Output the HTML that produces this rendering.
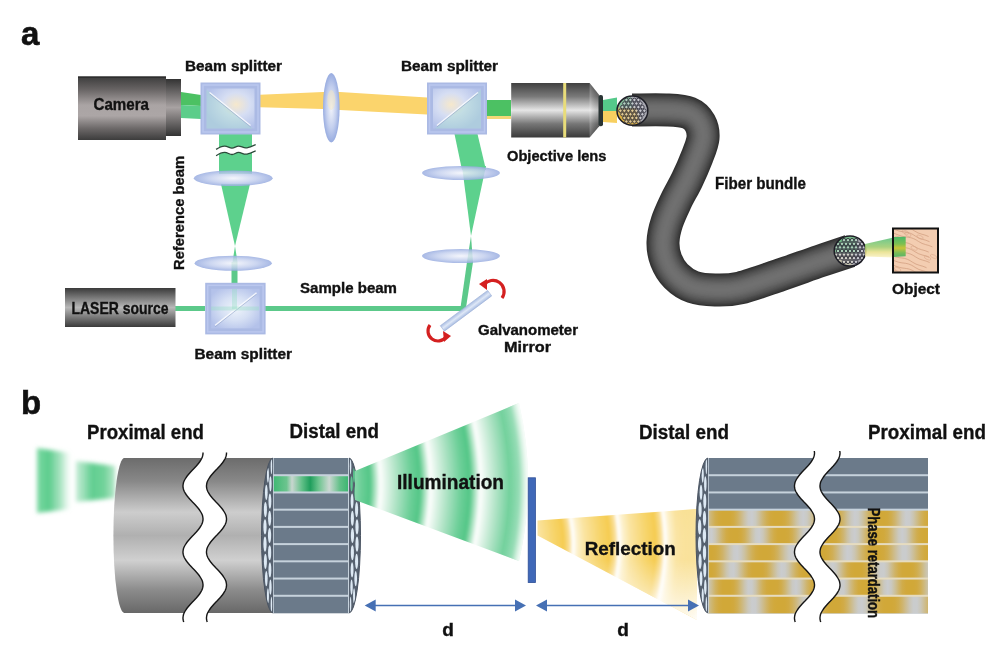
<!DOCTYPE html><html><head><meta charset="utf-8"><style>html,body{margin:0;padding:0;background:#fff;width:1000px;height:663px;overflow:hidden}svg{display:block;will-change:transform}</style></head><body><svg width="1000" height="663" viewBox="0 0 1000 663"><defs><linearGradient id="camg" x1="0" y1="0" x2="0" y2="1">
<stop offset="0" stop-color="#3c3c3c"/><stop offset="0.2" stop-color="#676363"/><stop offset="0.45" stop-color="#aaa4a4"/><stop offset="0.62" stop-color="#aca6a6"/><stop offset="0.82" stop-color="#6c6868"/><stop offset="1" stop-color="#3c3c3c"/></linearGradient><linearGradient id="camn" x1="0" y1="0" x2="0" y2="1">
<stop offset="0" stop-color="#333"/><stop offset="0.5" stop-color="#a8a2a2"/><stop offset="1" stop-color="#333"/></linearGradient><linearGradient id="objg" x1="0" y1="0" x2="0" y2="1">
<stop offset="0" stop-color="#404040"/><stop offset="0.25" stop-color="#7a7a7a"/><stop offset="0.5" stop-color="#e6e6e6"/><stop offset="0.75" stop-color="#777"/><stop offset="1" stop-color="#3a3a3a"/></linearGradient><linearGradient id="lasg" x1="0" y1="0" x2="0" y2="1">
<stop offset="0" stop-color="#3a3a3a"/><stop offset="0.5" stop-color="#b8b8b8"/><stop offset="1" stop-color="#3a3a3a"/></linearGradient><radialGradient id="lensv" cx="0.5" cy="0.5" r="0.5">
<stop offset="0" stop-color="#f2f4fb"/><stop offset="0.6" stop-color="#c3cfee"/><stop offset="1" stop-color="#98ace0"/></radialGradient><radialGradient id="bsin" cx="0.6" cy="0.35" r="0.6">
<stop offset="0" stop-color="#f4eedf"/><stop offset="0.5" stop-color="#d3dcf2"/><stop offset="1" stop-color="#b3c2ea"/></radialGradient><linearGradient id="bscyl" x1="0" y1="0" x2="0" y2="1">
<stop offset="0" stop-color="#6c6c6c"/><stop offset="0.15" stop-color="#888"/><stop offset="0.35" stop-color="#cdcdcd"/><stop offset="0.5" stop-color="#b0b0b0"/><stop offset="0.66" stop-color="#d0d0d0"/><stop offset="0.85" stop-color="#8c8c8c"/><stop offset="1" stop-color="#686868"/></linearGradient><filter id="blur05" x="-10%" y="-10%" width="120%" height="120%"><feGaussianBlur stdDeviation="0.5"/></filter><radialGradient id="bsinR" cx="0.62" cy="0.4" r="0.65">
<stop offset="0" stop-color="#f6e8cc"/><stop offset="0.45" stop-color="#d6def3"/><stop offset="1" stop-color="#b4c2ea"/></radialGradient><radialGradient id="bsinL" cx="0.38" cy="0.4" r="0.65">
<stop offset="0" stop-color="#f6e8cc"/><stop offset="0.45" stop-color="#d6def3"/><stop offset="1" stop-color="#b4c2ea"/></radialGradient><radialGradient id="bsin3" cx="0.5" cy="0.5" r="0.6">
<stop offset="0" stop-color="#eef4fb"/><stop offset="0.5" stop-color="#d6e0f4"/><stop offset="1" stop-color="#b4c2ea"/></radialGradient><linearGradient id="objg2" x1="0" y1="0" x2="1" y2="0"><stop offset="0" stop-color="#fff" stop-opacity="0.25"/><stop offset="1" stop-color="#000" stop-opacity="0.15"/></linearGradient><clipPath id="fe1"><ellipse cx="632.4" cy="110.7" rx="15.4" ry="14.6"/></clipPath><clipPath id="fe2"><ellipse cx="850" cy="251" rx="15.8" ry="15"/></clipPath><linearGradient id="objbeam" x1="0" y1="237" x2="0" y2="257" gradientUnits="userSpaceOnUse">
<stop offset="0" stop-color="#4cb868"/><stop offset="0.35" stop-color="#7cc050"/><stop offset="0.55" stop-color="#c8c438"/><stop offset="0.8" stop-color="#78bc58"/><stop offset="1" stop-color="#58b468"/></linearGradient><linearGradient id="objbeamout" x1="0" y1="238" x2="0" y2="258" gradientUnits="userSpaceOnUse">
<stop offset="0" stop-color="#58c07a"/><stop offset="0.45" stop-color="#9ccb6a"/><stop offset="0.7" stop-color="#e8e088"/><stop offset="1" stop-color="#fbf3c8"/></linearGradient><clipPath id="objclip"><rect x="894" y="229.5" width="43" height="42"/></clipPath><linearGradient id="mirg" x1="0" y1="0" x2="0" y2="1"><stop offset="0" stop-color="#a9bde2"/><stop offset="0.5" stop-color="#dfe8f7"/><stop offset="1" stop-color="#a9bde2"/></linearGradient><filter id="blur2" x="-20%" y="-20%" width="140%" height="140%"><feGaussianBlur stdDeviation="2.2"/></filter><filter id="blur1" x="-20%" y="-20%" width="140%" height="140%"><feGaussianBlur stdDeviation="1.2"/></filter><filter id="blur15" x="-20%" y="-20%" width="140%" height="140%"><feGaussianBlur stdDeviation="1.6"/></filter><filter id="blur07" x="-20%" y="-20%" width="140%" height="140%"><feGaussianBlur stdDeviation="0.7"/></filter><linearGradient id="gw1" x1="37" y1="0" x2="71" y2="0" gradientUnits="userSpaceOnUse">
<stop offset="0" stop-color="#5ccf8c" stop-opacity="0.8"/><stop offset="0.35" stop-color="#52c986" stop-opacity="0.95"/><stop offset="0.7" stop-color="#86d8a8" stop-opacity="0.7"/><stop offset="1" stop-color="#b8e8cc" stop-opacity="0.0"/></linearGradient><linearGradient id="gw2" x1="76" y1="0" x2="116" y2="0" gradientUnits="userSpaceOnUse">
<stop offset="0" stop-color="#8ad9ab" stop-opacity="0.5"/><stop offset="0.4" stop-color="#58cb8a" stop-opacity="0.95"/><stop offset="0.7" stop-color="#60cd8e" stop-opacity="0.9"/><stop offset="1" stop-color="#88d8a8" stop-opacity="0.6"/></linearGradient><linearGradient id="gstripe" x1="273" y1="0" x2="349" y2="0" gradientUnits="userSpaceOnUse">
<stop offset="0" stop-color="#3db873"/><stop offset="0.18" stop-color="#6cc48e"/><stop offset="0.25" stop-color="#c9d6d0"/><stop offset="0.38" stop-color="#62c088"/>
<stop offset="0.49" stop-color="#1f9e5c"/><stop offset="0.6" stop-color="#6cc48e"/><stop offset="0.74" stop-color="#ccd8d2"/><stop offset="0.88" stop-color="#62c088"/><stop offset="1" stop-color="#3ab56f"/></linearGradient><radialGradient id="gillum" cx="180" cy="485" r="50" fx="180" fy="485" gradientUnits="userSpaceOnUse" spreadMethod="repeat">
<stop offset="0" stop-color="#ffffff"/><stop offset="0.1" stop-color="#e6f6ec"/><stop offset="0.3" stop-color="#b6e5ca"/><stop offset="0.62" stop-color="#6ccf98"/><stop offset="0.8" stop-color="#52c686"/><stop offset="0.9" stop-color="#a8e2c0"/><stop offset="1" stop-color="#ffffff"/></radialGradient><radialGradient id="gillumfade" cx="180" cy="485" r="352" gradientUnits="userSpaceOnUse">
<stop offset="0.5" stop-color="#fff" stop-opacity="0"/><stop offset="0.935" stop-color="#fff" stop-opacity="0"/><stop offset="1" stop-color="#fff" stop-opacity="0.9"/></radialGradient><clipPath id="illclip"><path d="M355 471 L519 403 A 350 350 0 0 1 519 561 L355 500 Z"/></clipPath><radialGradient id="gref" cx="435" cy="545" r="46" gradientUnits="userSpaceOnUse" spreadMethod="repeat">
<stop offset="0" stop-color="#ffffff"/><stop offset="0.1" stop-color="#fdf1cc"/><stop offset="0.25" stop-color="#fae4a2"/><stop offset="0.6" stop-color="#f7d46a"/><stop offset="0.8" stop-color="#f5cc52"/><stop offset="0.92" stop-color="#f9df98"/><stop offset="1" stop-color="#ffffff"/></radialGradient><linearGradient id="greffade" x1="0" y1="560" x2="0" y2="620" gradientUnits="userSpaceOnUse">
<stop offset="0" stop-color="#fff" stop-opacity="0"/><stop offset="1" stop-color="#fff" stop-opacity="0.9"/></linearGradient><linearGradient id="greffade2" x1="675" y1="0" x2="698" y2="0" gradientUnits="userSpaceOnUse">
<stop offset="0" stop-color="#fff" stop-opacity="0"/><stop offset="1" stop-color="#fff" stop-opacity="0.45"/></linearGradient><clipPath id="refclip"><path d="M537.5 520.5 L697 509 L697 620 L537.5 535.5 Z"/></clipPath><linearGradient id="ystr0" x1="708" y1="0" x2="928" y2="0" gradientUnits="userSpaceOnUse"><stop offset="0.000" stop-color="rgb(205, 190, 149)"/><stop offset="0.017" stop-color="rgb(207, 181, 110)"/><stop offset="0.033" stop-color="rgb(208, 173, 78)"/><stop offset="0.050" stop-color="rgb(209, 169, 61)"/><stop offset="0.067" stop-color="rgb(209, 168, 56)"/><stop offset="0.083" stop-color="rgb(209, 168, 56)"/><stop offset="0.100" stop-color="rgb(209, 168, 57)"/><stop offset="0.117" stop-color="rgb(209, 171, 68)"/><stop offset="0.133" stop-color="rgb(208, 177, 93)"/><stop offset="0.150" stop-color="rgb(206, 185, 129)"/><stop offset="0.167" stop-color="rgb(204, 195, 169)"/><stop offset="0.183" stop-color="rgb(202, 202, 199)"/><stop offset="0.200" stop-color="rgb(202, 204, 207)"/><stop offset="0.217" stop-color="rgb(202, 201, 191)"/><stop offset="0.233" stop-color="rgb(204, 192, 157)"/><stop offset="0.250" stop-color="rgb(206, 182, 116)"/><stop offset="0.267" stop-color="rgb(208, 174, 83)"/><stop offset="0.283" stop-color="rgb(209, 169, 63)"/><stop offset="0.300" stop-color="rgb(209, 168, 56)"/><stop offset="0.317" stop-color="rgb(209, 168, 56)"/><stop offset="0.333" stop-color="rgb(209, 168, 57)"/><stop offset="0.350" stop-color="rgb(209, 170, 65)"/><stop offset="0.367" stop-color="rgb(208, 175, 87)"/><stop offset="0.383" stop-color="rgb(206, 184, 122)"/><stop offset="0.400" stop-color="rgb(204, 194, 162)"/><stop offset="0.417" stop-color="rgb(202, 201, 195)"/><stop offset="0.433" stop-color="rgb(202, 204, 207)"/><stop offset="0.450" stop-color="rgb(202, 202, 196)"/><stop offset="0.467" stop-color="rgb(204, 194, 164)"/><stop offset="0.483" stop-color="rgb(206, 184, 124)"/><stop offset="0.500" stop-color="rgb(208, 175, 88)"/><stop offset="0.517" stop-color="rgb(209, 170, 66)"/><stop offset="0.533" stop-color="rgb(209, 168, 57)"/><stop offset="0.550" stop-color="rgb(209, 168, 56)"/><stop offset="0.567" stop-color="rgb(209, 168, 56)"/><stop offset="0.583" stop-color="rgb(209, 169, 63)"/><stop offset="0.600" stop-color="rgb(208, 174, 82)"/><stop offset="0.617" stop-color="rgb(206, 182, 115)"/><stop offset="0.633" stop-color="rgb(204, 192, 155)"/><stop offset="0.650" stop-color="rgb(202, 200, 190)"/><stop offset="0.667" stop-color="rgb(202, 204, 207)"/><stop offset="0.683" stop-color="rgb(202, 203, 200)"/><stop offset="0.700" stop-color="rgb(203, 196, 171)"/><stop offset="0.717" stop-color="rgb(206, 186, 131)"/><stop offset="0.733" stop-color="rgb(207, 177, 94)"/><stop offset="0.750" stop-color="rgb(209, 171, 69)"/><stop offset="0.767" stop-color="rgb(209, 168, 58)"/><stop offset="0.783" stop-color="rgb(209, 168, 56)"/><stop offset="0.800" stop-color="rgb(209, 168, 56)"/><stop offset="0.817" stop-color="rgb(209, 169, 61)"/><stop offset="0.833" stop-color="rgb(208, 173, 77)"/><stop offset="0.850" stop-color="rgb(207, 180, 108)"/><stop offset="0.867" stop-color="rgb(205, 190, 148)"/><stop offset="0.883" stop-color="rgb(203, 199, 185)"/><stop offset="0.900" stop-color="rgb(202, 204, 206)"/><stop offset="0.917" stop-color="rgb(202, 203, 203)"/><stop offset="0.933" stop-color="rgb(203, 197, 177)"/><stop offset="0.950" stop-color="rgb(205, 188, 138)"/><stop offset="0.967" stop-color="rgb(207, 178, 100)"/><stop offset="0.983" stop-color="rgb(209, 172, 72)"/><stop offset="1.000" stop-color="rgb(209, 168, 59)"/></linearGradient><linearGradient id="ystr1" x1="708" y1="0" x2="928" y2="0" gradientUnits="userSpaceOnUse"><stop offset="0.000" stop-color="rgb(202, 203, 201)"/><stop offset="0.017" stop-color="rgb(202, 204, 206)"/><stop offset="0.033" stop-color="rgb(203, 198, 182)"/><stop offset="0.050" stop-color="rgb(205, 188, 141)"/><stop offset="0.067" stop-color="rgb(207, 178, 100)"/><stop offset="0.083" stop-color="rgb(209, 171, 70)"/><stop offset="0.100" stop-color="rgb(209, 168, 58)"/><stop offset="0.117" stop-color="rgb(209, 168, 56)"/><stop offset="0.133" stop-color="rgb(209, 168, 56)"/><stop offset="0.150" stop-color="rgb(209, 169, 63)"/><stop offset="0.167" stop-color="rgb(208, 175, 86)"/><stop offset="0.183" stop-color="rgb(206, 184, 124)"/><stop offset="0.200" stop-color="rgb(204, 195, 167)"/><stop offset="0.217" stop-color="rgb(202, 203, 199)"/><stop offset="0.233" stop-color="rgb(202, 204, 207)"/><stop offset="0.250" stop-color="rgb(203, 199, 185)"/><stop offset="0.267" stop-color="rgb(205, 189, 146)"/><stop offset="0.283" stop-color="rgb(207, 179, 103)"/><stop offset="0.300" stop-color="rgb(209, 172, 72)"/><stop offset="0.317" stop-color="rgb(209, 168, 58)"/><stop offset="0.333" stop-color="rgb(209, 168, 56)"/><stop offset="0.350" stop-color="rgb(209, 168, 56)"/><stop offset="0.367" stop-color="rgb(209, 169, 62)"/><stop offset="0.383" stop-color="rgb(208, 174, 83)"/><stop offset="0.400" stop-color="rgb(206, 183, 120)"/><stop offset="0.417" stop-color="rgb(204, 194, 164)"/><stop offset="0.433" stop-color="rgb(202, 202, 197)"/><stop offset="0.450" stop-color="rgb(202, 204, 207)"/><stop offset="0.467" stop-color="rgb(203, 200, 188)"/><stop offset="0.483" stop-color="rgb(205, 190, 150)"/><stop offset="0.500" stop-color="rgb(207, 180, 107)"/><stop offset="0.517" stop-color="rgb(209, 172, 74)"/><stop offset="0.533" stop-color="rgb(209, 168, 59)"/><stop offset="0.550" stop-color="rgb(209, 168, 56)"/><stop offset="0.567" stop-color="rgb(209, 168, 56)"/><stop offset="0.583" stop-color="rgb(209, 169, 61)"/><stop offset="0.600" stop-color="rgb(208, 174, 80)"/><stop offset="0.617" stop-color="rgb(206, 182, 116)"/><stop offset="0.633" stop-color="rgb(204, 193, 160)"/><stop offset="0.650" stop-color="rgb(202, 201, 195)"/><stop offset="0.667" stop-color="rgb(202, 204, 207)"/><stop offset="0.683" stop-color="rgb(202, 201, 191)"/><stop offset="0.700" stop-color="rgb(204, 191, 153)"/><stop offset="0.717" stop-color="rgb(207, 181, 110)"/><stop offset="0.733" stop-color="rgb(208, 173, 77)"/><stop offset="0.750" stop-color="rgb(209, 169, 60)"/><stop offset="0.767" stop-color="rgb(209, 168, 56)"/><stop offset="0.783" stop-color="rgb(209, 168, 56)"/><stop offset="0.800" stop-color="rgb(209, 169, 60)"/><stop offset="0.817" stop-color="rgb(208, 173, 78)"/><stop offset="0.833" stop-color="rgb(207, 181, 112)"/><stop offset="0.850" stop-color="rgb(204, 192, 156)"/><stop offset="0.867" stop-color="rgb(202, 201, 193)"/><stop offset="0.883" stop-color="rgb(202, 204, 207)"/><stop offset="0.900" stop-color="rgb(202, 201, 194)"/><stop offset="0.917" stop-color="rgb(204, 192, 157)"/><stop offset="0.933" stop-color="rgb(206, 182, 114)"/><stop offset="0.950" stop-color="rgb(208, 173, 79)"/><stop offset="0.967" stop-color="rgb(209, 169, 61)"/><stop offset="0.983" stop-color="rgb(209, 168, 56)"/><stop offset="1.000" stop-color="rgb(209, 168, 56)"/></linearGradient><linearGradient id="ystr2" x1="708" y1="0" x2="928" y2="0" gradientUnits="userSpaceOnUse"><stop offset="0.000" stop-color="rgb(209, 168, 56)"/><stop offset="0.017" stop-color="rgb(209, 168, 56)"/><stop offset="0.033" stop-color="rgb(209, 169, 61)"/><stop offset="0.050" stop-color="rgb(208, 173, 77)"/><stop offset="0.067" stop-color="rgb(207, 179, 105)"/><stop offset="0.083" stop-color="rgb(205, 188, 141)"/><stop offset="0.100" stop-color="rgb(203, 197, 177)"/><stop offset="0.117" stop-color="rgb(202, 203, 202)"/><stop offset="0.133" stop-color="rgb(202, 204, 207)"/><stop offset="0.150" stop-color="rgb(202, 200, 191)"/><stop offset="0.167" stop-color="rgb(204, 193, 159)"/><stop offset="0.183" stop-color="rgb(206, 184, 122)"/><stop offset="0.200" stop-color="rgb(208, 176, 89)"/><stop offset="0.217" stop-color="rgb(209, 170, 67)"/><stop offset="0.233" stop-color="rgb(209, 168, 58)"/><stop offset="0.250" stop-color="rgb(209, 168, 56)"/><stop offset="0.267" stop-color="rgb(209, 168, 56)"/><stop offset="0.283" stop-color="rgb(209, 168, 59)"/><stop offset="0.300" stop-color="rgb(209, 171, 71)"/><stop offset="0.317" stop-color="rgb(207, 177, 96)"/><stop offset="0.333" stop-color="rgb(206, 186, 131)"/><stop offset="0.350" stop-color="rgb(204, 195, 168)"/><stop offset="0.367" stop-color="rgb(202, 202, 196)"/><stop offset="0.383" stop-color="rgb(202, 204, 207)"/><stop offset="0.400" stop-color="rgb(202, 202, 197)"/><stop offset="0.417" stop-color="rgb(204, 195, 169)"/><stop offset="0.433" stop-color="rgb(205, 186, 132)"/><stop offset="0.450" stop-color="rgb(207, 178, 97)"/><stop offset="0.467" stop-color="rgb(209, 171, 72)"/><stop offset="0.483" stop-color="rgb(209, 168, 59)"/><stop offset="0.500" stop-color="rgb(209, 168, 56)"/><stop offset="0.517" stop-color="rgb(209, 168, 56)"/><stop offset="0.533" stop-color="rgb(209, 168, 57)"/><stop offset="0.550" stop-color="rgb(209, 170, 67)"/><stop offset="0.567" stop-color="rgb(208, 175, 88)"/><stop offset="0.583" stop-color="rgb(206, 183, 121)"/><stop offset="0.600" stop-color="rgb(204, 192, 158)"/><stop offset="0.617" stop-color="rgb(202, 200, 190)"/><stop offset="0.633" stop-color="rgb(202, 204, 207)"/><stop offset="0.650" stop-color="rgb(202, 203, 202)"/><stop offset="0.667" stop-color="rgb(203, 197, 178)"/><stop offset="0.683" stop-color="rgb(205, 189, 143)"/><stop offset="0.700" stop-color="rgb(207, 180, 106)"/><stop offset="0.717" stop-color="rgb(208, 173, 78)"/><stop offset="0.733" stop-color="rgb(209, 169, 61)"/><stop offset="0.750" stop-color="rgb(209, 168, 56)"/><stop offset="0.767" stop-color="rgb(209, 168, 56)"/><stop offset="0.783" stop-color="rgb(209, 168, 56)"/><stop offset="0.800" stop-color="rgb(209, 169, 63)"/><stop offset="0.817" stop-color="rgb(208, 174, 81)"/><stop offset="0.833" stop-color="rgb(207, 181, 111)"/><stop offset="0.850" stop-color="rgb(205, 190, 148)"/><stop offset="0.867" stop-color="rgb(203, 198, 183)"/><stop offset="0.883" stop-color="rgb(202, 204, 204)"/><stop offset="0.900" stop-color="rgb(202, 204, 205)"/><stop offset="0.917" stop-color="rgb(203, 199, 186)"/><stop offset="0.933" stop-color="rgb(204, 191, 153)"/><stop offset="0.950" stop-color="rgb(206, 182, 115)"/><stop offset="0.967" stop-color="rgb(208, 174, 84)"/><stop offset="0.983" stop-color="rgb(209, 170, 65)"/><stop offset="1.000" stop-color="rgb(209, 168, 57)"/></linearGradient><linearGradient id="ystr3" x1="708" y1="0" x2="928" y2="0" gradientUnits="userSpaceOnUse"><stop offset="0.000" stop-color="rgb(209, 168, 56)"/><stop offset="0.017" stop-color="rgb(209, 168, 57)"/><stop offset="0.033" stop-color="rgb(209, 170, 67)"/><stop offset="0.050" stop-color="rgb(208, 177, 93)"/><stop offset="0.067" stop-color="rgb(206, 186, 131)"/><stop offset="0.083" stop-color="rgb(203, 196, 172)"/><stop offset="0.100" stop-color="rgb(202, 203, 201)"/><stop offset="0.117" stop-color="rgb(202, 204, 206)"/><stop offset="0.133" stop-color="rgb(203, 199, 185)"/><stop offset="0.150" stop-color="rgb(205, 190, 147)"/><stop offset="0.167" stop-color="rgb(207, 180, 106)"/><stop offset="0.183" stop-color="rgb(208, 172, 75)"/><stop offset="0.200" stop-color="rgb(209, 168, 59)"/><stop offset="0.217" stop-color="rgb(209, 168, 56)"/><stop offset="0.233" stop-color="rgb(209, 168, 56)"/><stop offset="0.250" stop-color="rgb(209, 168, 59)"/><stop offset="0.267" stop-color="rgb(208, 172, 75)"/><stop offset="0.283" stop-color="rgb(207, 180, 106)"/><stop offset="0.300" stop-color="rgb(205, 190, 147)"/><stop offset="0.317" stop-color="rgb(203, 199, 185)"/><stop offset="0.333" stop-color="rgb(202, 204, 206)"/><stop offset="0.350" stop-color="rgb(202, 203, 201)"/><stop offset="0.367" stop-color="rgb(203, 196, 172)"/><stop offset="0.383" stop-color="rgb(206, 186, 131)"/><stop offset="0.400" stop-color="rgb(208, 177, 93)"/><stop offset="0.417" stop-color="rgb(209, 170, 67)"/><stop offset="0.433" stop-color="rgb(209, 168, 57)"/><stop offset="0.450" stop-color="rgb(209, 168, 56)"/><stop offset="0.467" stop-color="rgb(209, 168, 56)"/><stop offset="0.483" stop-color="rgb(209, 169, 63)"/><stop offset="0.500" stop-color="rgb(208, 175, 84)"/><stop offset="0.517" stop-color="rgb(206, 183, 120)"/><stop offset="0.533" stop-color="rgb(204, 193, 162)"/><stop offset="0.550" stop-color="rgb(202, 202, 195)"/><stop offset="0.567" stop-color="rgb(202, 204, 207)"/><stop offset="0.583" stop-color="rgb(202, 201, 193)"/><stop offset="0.600" stop-color="rgb(204, 192, 158)"/><stop offset="0.617" stop-color="rgb(206, 182, 116)"/><stop offset="0.633" stop-color="rgb(208, 174, 82)"/><stop offset="0.650" stop-color="rgb(209, 169, 62)"/><stop offset="0.667" stop-color="rgb(209, 168, 56)"/><stop offset="0.683" stop-color="rgb(209, 168, 56)"/><stop offset="0.700" stop-color="rgb(209, 168, 57)"/><stop offset="0.717" stop-color="rgb(209, 171, 69)"/><stop offset="0.733" stop-color="rgb(207, 177, 96)"/><stop offset="0.750" stop-color="rgb(205, 187, 135)"/><stop offset="0.767" stop-color="rgb(203, 197, 176)"/><stop offset="0.783" stop-color="rgb(202, 203, 203)"/><stop offset="0.800" stop-color="rgb(202, 204, 205)"/><stop offset="0.817" stop-color="rgb(203, 198, 182)"/><stop offset="0.833" stop-color="rgb(205, 189, 143)"/><stop offset="0.850" stop-color="rgb(207, 179, 102)"/><stop offset="0.867" stop-color="rgb(209, 172, 73)"/><stop offset="0.883" stop-color="rgb(209, 168, 59)"/><stop offset="0.900" stop-color="rgb(209, 168, 56)"/><stop offset="0.917" stop-color="rgb(209, 168, 56)"/><stop offset="0.933" stop-color="rgb(209, 169, 60)"/><stop offset="0.950" stop-color="rgb(208, 173, 77)"/><stop offset="0.967" stop-color="rgb(207, 181, 109)"/><stop offset="0.983" stop-color="rgb(204, 191, 151)"/><stop offset="1.000" stop-color="rgb(203, 200, 188)"/></linearGradient><linearGradient id="ystr4" x1="708" y1="0" x2="928" y2="0" gradientUnits="userSpaceOnUse"><stop offset="0.000" stop-color="rgb(203, 200, 187)"/><stop offset="0.017" stop-color="rgb(205, 190, 146)"/><stop offset="0.033" stop-color="rgb(207, 179, 102)"/><stop offset="0.050" stop-color="rgb(209, 171, 71)"/><stop offset="0.067" stop-color="rgb(209, 168, 57)"/><stop offset="0.083" stop-color="rgb(209, 168, 56)"/><stop offset="0.100" stop-color="rgb(209, 168, 56)"/><stop offset="0.117" stop-color="rgb(209, 170, 66)"/><stop offset="0.133" stop-color="rgb(208, 176, 92)"/><stop offset="0.150" stop-color="rgb(205, 187, 134)"/><stop offset="0.167" stop-color="rgb(203, 197, 178)"/><stop offset="0.183" stop-color="rgb(202, 204, 205)"/><stop offset="0.200" stop-color="rgb(202, 203, 202)"/><stop offset="0.217" stop-color="rgb(203, 195, 170)"/><stop offset="0.233" stop-color="rgb(206, 184, 125)"/><stop offset="0.250" stop-color="rgb(208, 175, 85)"/><stop offset="0.267" stop-color="rgb(209, 169, 63)"/><stop offset="0.283" stop-color="rgb(209, 168, 56)"/><stop offset="0.300" stop-color="rgb(209, 168, 56)"/><stop offset="0.317" stop-color="rgb(209, 168, 59)"/><stop offset="0.333" stop-color="rgb(208, 172, 75)"/><stop offset="0.350" stop-color="rgb(207, 181, 110)"/><stop offset="0.367" stop-color="rgb(204, 192, 155)"/><stop offset="0.383" stop-color="rgb(202, 201, 194)"/><stop offset="0.400" stop-color="rgb(202, 204, 207)"/><stop offset="0.417" stop-color="rgb(202, 200, 190)"/><stop offset="0.433" stop-color="rgb(205, 191, 150)"/><stop offset="0.450" stop-color="rgb(207, 180, 106)"/><stop offset="0.467" stop-color="rgb(209, 172, 73)"/><stop offset="0.483" stop-color="rgb(209, 168, 58)"/><stop offset="0.500" stop-color="rgb(209, 168, 56)"/><stop offset="0.517" stop-color="rgb(209, 168, 56)"/><stop offset="0.533" stop-color="rgb(209, 170, 64)"/><stop offset="0.550" stop-color="rgb(208, 176, 89)"/><stop offset="0.567" stop-color="rgb(206, 186, 130)"/><stop offset="0.583" stop-color="rgb(203, 197, 175)"/><stop offset="0.600" stop-color="rgb(202, 204, 204)"/><stop offset="0.617" stop-color="rgb(202, 203, 203)"/><stop offset="0.633" stop-color="rgb(203, 196, 174)"/><stop offset="0.650" stop-color="rgb(206, 185, 129)"/><stop offset="0.667" stop-color="rgb(208, 176, 89)"/><stop offset="0.683" stop-color="rgb(209, 170, 64)"/><stop offset="0.700" stop-color="rgb(209, 168, 56)"/><stop offset="0.717" stop-color="rgb(209, 168, 56)"/><stop offset="0.733" stop-color="rgb(209, 168, 58)"/><stop offset="0.750" stop-color="rgb(209, 172, 73)"/><stop offset="0.767" stop-color="rgb(207, 180, 106)"/><stop offset="0.783" stop-color="rgb(204, 191, 151)"/><stop offset="0.800" stop-color="rgb(202, 200, 191)"/><stop offset="0.817" stop-color="rgb(202, 204, 207)"/><stop offset="0.833" stop-color="rgb(202, 201, 193)"/><stop offset="0.850" stop-color="rgb(204, 192, 154)"/><stop offset="0.867" stop-color="rgb(207, 181, 109)"/><stop offset="0.883" stop-color="rgb(208, 172, 75)"/><stop offset="0.900" stop-color="rgb(209, 168, 59)"/><stop offset="0.917" stop-color="rgb(209, 168, 56)"/><stop offset="0.933" stop-color="rgb(209, 168, 56)"/><stop offset="0.950" stop-color="rgb(209, 169, 63)"/><stop offset="0.967" stop-color="rgb(208, 175, 86)"/><stop offset="0.983" stop-color="rgb(206, 185, 126)"/><stop offset="1.000" stop-color="rgb(203, 196, 171)"/></linearGradient><linearGradient id="ystr5" x1="708" y1="0" x2="928" y2="0" gradientUnits="userSpaceOnUse"><stop offset="0.000" stop-color="rgb(204, 191, 152)"/><stop offset="0.017" stop-color="rgb(206, 182, 113)"/><stop offset="0.033" stop-color="rgb(208, 174, 82)"/><stop offset="0.050" stop-color="rgb(209, 169, 63)"/><stop offset="0.067" stop-color="rgb(209, 168, 56)"/><stop offset="0.083" stop-color="rgb(209, 168, 56)"/><stop offset="0.100" stop-color="rgb(209, 168, 56)"/><stop offset="0.117" stop-color="rgb(209, 169, 63)"/><stop offset="0.133" stop-color="rgb(208, 174, 82)"/><stop offset="0.150" stop-color="rgb(206, 182, 114)"/><stop offset="0.167" stop-color="rgb(204, 191, 153)"/><stop offset="0.183" stop-color="rgb(203, 200, 187)"/><stop offset="0.200" stop-color="rgb(202, 204, 206)"/><stop offset="0.217" stop-color="rgb(202, 203, 203)"/><stop offset="0.233" stop-color="rgb(203, 197, 178)"/><stop offset="0.250" stop-color="rgb(205, 188, 141)"/><stop offset="0.267" stop-color="rgb(207, 179, 104)"/><stop offset="0.283" stop-color="rgb(208, 172, 75)"/><stop offset="0.300" stop-color="rgb(209, 169, 60)"/><stop offset="0.317" stop-color="rgb(209, 168, 56)"/><stop offset="0.333" stop-color="rgb(209, 168, 56)"/><stop offset="0.350" stop-color="rgb(209, 168, 57)"/><stop offset="0.367" stop-color="rgb(209, 170, 67)"/><stop offset="0.383" stop-color="rgb(208, 176, 90)"/><stop offset="0.400" stop-color="rgb(206, 184, 124)"/><stop offset="0.417" stop-color="rgb(204, 194, 163)"/><stop offset="0.433" stop-color="rgb(202, 201, 194)"/><stop offset="0.450" stop-color="rgb(202, 204, 207)"/><stop offset="0.467" stop-color="rgb(202, 202, 198)"/><stop offset="0.483" stop-color="rgb(204, 195, 169)"/><stop offset="0.500" stop-color="rgb(206, 186, 131)"/><stop offset="0.517" stop-color="rgb(207, 177, 95)"/><stop offset="0.533" stop-color="rgb(209, 171, 70)"/><stop offset="0.550" stop-color="rgb(209, 168, 58)"/><stop offset="0.567" stop-color="rgb(209, 168, 56)"/><stop offset="0.583" stop-color="rgb(209, 168, 56)"/><stop offset="0.600" stop-color="rgb(209, 168, 59)"/><stop offset="0.617" stop-color="rgb(209, 171, 72)"/><stop offset="0.633" stop-color="rgb(207, 178, 98)"/><stop offset="0.650" stop-color="rgb(205, 187, 135)"/><stop offset="0.667" stop-color="rgb(203, 196, 173)"/><stop offset="0.683" stop-color="rgb(202, 203, 200)"/><stop offset="0.700" stop-color="rgb(202, 204, 207)"/><stop offset="0.717" stop-color="rgb(202, 201, 192)"/><stop offset="0.733" stop-color="rgb(204, 193, 159)"/><stop offset="0.750" stop-color="rgb(206, 183, 120)"/><stop offset="0.767" stop-color="rgb(208, 175, 86)"/><stop offset="0.783" stop-color="rgb(209, 170, 65)"/><stop offset="0.800" stop-color="rgb(209, 168, 57)"/><stop offset="0.817" stop-color="rgb(209, 168, 56)"/><stop offset="0.833" stop-color="rgb(209, 168, 56)"/><stop offset="0.850" stop-color="rgb(209, 169, 61)"/><stop offset="0.867" stop-color="rgb(208, 173, 78)"/><stop offset="0.883" stop-color="rgb(207, 180, 107)"/><stop offset="0.900" stop-color="rgb(205, 189, 146)"/><stop offset="0.917" stop-color="rgb(203, 198, 182)"/><stop offset="0.933" stop-color="rgb(202, 204, 204)"/><stop offset="0.950" stop-color="rgb(202, 204, 205)"/><stop offset="0.967" stop-color="rgb(203, 199, 184)"/><stop offset="0.983" stop-color="rgb(205, 190, 148)"/><stop offset="1.000" stop-color="rgb(207, 181, 110)"/></linearGradient></defs><rect width="1000" height="663" fill="#fff"/><text x="21" y="45" font-size="33" fill="#111" style="font-family:'Liberation Sans',sans-serif;font-weight:bold" stroke="#111" stroke-width="0.6">a</text><rect x="78" y="76.5" width="88" height="63.5" fill="url(#camg)"/><rect x="78" y="76.5" width="88" height="1.5" fill="#2e2e2e"/><rect x="166" y="79" width="15" height="57" fill="url(#camn)"/><text x="93.5" y="110.0" font-size="15.99" textLength="55.5" lengthAdjust="spacingAndGlyphs" fill="#111" stroke="#111" stroke-width="0.35" style="font-family:'Liberation Sans',sans-serif;font-weight:bold">Camera</text><polygon points="181,92 201,95 201,106 181,105" fill="#4cc163"/><polygon points="181,105 201,106 201,119 181,118" fill="#5ccd8a"/><polygon points="260,94.7 323,92 340,92 427,97.4 427,114.5 340,110 323,109 260,107.3" fill="#fbd46c"/><ellipse cx="331.3" cy="107.7" rx="8.3" ry="34.7" fill="url(#lensv)"/><ellipse cx="331.3" cy="100" rx="4" ry="10" fill="#f4e6c0" opacity="0.5"/><rect x="219" y="134" width="33" height="40" fill="#5dd18d"/><path d="M216.1 149.4 C219 147.5, 222 146, 224.8 146.1 S 229.5 148.2, 232 148.2 S 236 146.1, 238.6 146.1 S 243 147.9, 245.8 147.9 S 252 146, 255.7 144.6 L255.7 150.9 C252 152.3, 247 154.2, 245.8 154.2 S 241 152.4, 238.6 152.4 S 234.5 154.5, 232 154.5 S 227.5 152.4, 224.8 152.4 S 219 153.8, 216.1 155.7 Z" fill="#fff"/><path d="M216.1 149.4 C219 147.5, 222 146, 224.8 146.1 S 229.5 148.2, 232 148.2 S 236 146.1, 238.6 146.1 S 243 147.9, 245.8 147.9 S 252 146, 255.7 144.6" fill="none" stroke="#2c4a3a" stroke-width="1.3"/><path d="M216.1 155.7 C219 153.8, 222 152.3, 224.8 152.4 S 229.5 154.5, 232 154.5 S 236 152.4, 238.6 152.4 S 243 154.2, 245.8 154.2 S 252 152.3, 255.7 150.9" fill="none" stroke="#2c4a3a" stroke-width="1.3"/><polygon points="221,184 250,184 235,246" fill="#5dd18d"/><polygon points="235,246 232.5,262 237.5,262" fill="#5dd18d"/><rect x="231.5" y="262" width="6" height="21" fill="#5cc98a"/><ellipse cx="233.2" cy="178.2" rx="39.4" ry="7.8" fill="url(#lensv)" opacity="0.85"/><ellipse cx="233.2" cy="263.2" rx="38.6" ry="7.5" fill="url(#lensv)" opacity="0.85"/><rect x="175" y="306" width="30" height="5" fill="#5cc98a"/><rect x="265" y="306" width="198" height="5" fill="#5cc98a"/><polygon points="460,311 465.5,311 473,262 467,262" fill="#5cc98a"/><polygon points="467,262 473,262 471,236" fill="#5cc98a"/><polygon points="471,236 462,166 486,166" fill="#5dd18d"/><polygon points="454.5,134 477.5,134 486,170 462,170" fill="#5dd18d"/><ellipse cx="461" cy="173" rx="39" ry="7" fill="url(#lensv)" opacity="0.85"/><ellipse cx="461" cy="256" rx="39" ry="7" fill="url(#lensv)" opacity="0.85"/><g filter="url(#blur05)"><rect x="200.5" y="82.5" width="60" height="52" fill="#abbae4"/><rect x="203.0" y="85.0" width="55" height="47" fill="none" stroke="#bac7ee" stroke-width="1.5"/><rect x="206.5" y="88.5" width="48" height="40" fill="url(#bsinR)"/><polygon points="206.5,89.5 252.5,128.5 206.5,128.5" fill="#a6dccc" opacity="0.4"/><line x1="209.5" y1="92.5" x2="250.5" y2="125.5" stroke="#fbfcff" stroke-width="1.6" opacity="0.85"/><line x1="209.5" y1="93.8" x2="250.5" y2="126.8" stroke="#8d9fc6" stroke-width="0.8" opacity="0.7"/></g><g filter="url(#blur05)"><rect x="427" y="82.5" width="60" height="52" fill="#abbae4"/><rect x="429.5" y="85.0" width="55" height="47" fill="none" stroke="#bac7ee" stroke-width="1.5"/><rect x="433" y="88.5" width="48" height="40" fill="url(#bsinL)"/><polygon points="481,89.5 481,128.5 435,128.5" fill="#a6dccc" opacity="0.4"/><line x1="478" y1="92.5" x2="437" y2="125.5" stroke="#fbfcff" stroke-width="1.6" opacity="0.85"/><line x1="478" y1="93.8" x2="437" y2="126.8" stroke="#8d9fc6" stroke-width="0.8" opacity="0.7"/></g><g filter="url(#blur05)"><rect x="205.2" y="282.8" width="60.4" height="51.6" fill="#abbae4"/><rect x="207.7" y="285.3" width="55.4" height="46.6" fill="none" stroke="#bac7ee" stroke-width="1.5"/><rect x="211.2" y="288.8" width="48.4" height="39.6" fill="url(#bsin3)"/><line x1="256.59999999999997" y1="292.8" x2="215.2" y2="325.40000000000003" stroke="#fbfcff" stroke-width="1.6" opacity="0.85"/><line x1="256.59999999999997" y1="294.1" x2="215.2" y2="326.70000000000005" stroke="#8d9fc6" stroke-width="0.8" opacity="0.7"/></g><rect x="211" y="306.5" width="48" height="4" fill="#8fdcc0" opacity="0.35"/><rect x="232" y="289" width="5" height="20" fill="#8fdcc0" opacity="0.35"/><rect x="65" y="288" width="110.5" height="39" fill="url(#lasg)"/><text x="71.5" y="314.0" font-size="15.99" textLength="97.0" lengthAdjust="spacingAndGlyphs" fill="#111" stroke="#111" stroke-width="0.35" style="font-family:'Liberation Sans',sans-serif;font-weight:bold">LASER source</text><rect x="487" y="100" width="24" height="16" fill="#4cc163"/><rect x="487" y="116" width="24" height="3" fill="#f4d878"/><path d="M511.2 83 H589.6 L599.2 95 V126.2 L589.6 137.4 H511.2 Z" fill="url(#objg)"/><path d="M589.6 83 L599.2 95 V126.2 L589.6 137.4 Z" fill="url(#objg2)"/><rect x="563.2" y="83" width="3" height="54.4" fill="#e8dc7a"/><rect x="598.5" y="95" width="4.5" height="31.2" rx="2" fill="#2a3434"/><polygon points="603,100 617,97.5 617,111 603,111" fill="#55c98a"/><polygon points="603,111 617,111 617,123 603,122" fill="#f8d060"/><path d="M632 110 C638.0 110.0, 658.5 109.5, 668 110 C677.5 110.5, 683.7 110.8, 689 113 C694.3 115.2, 697.7 118.8, 700 123 C702.3 127.2, 703.5 132.3, 703 138 C702.5 143.7, 699.7 150.0, 697 157 C694.3 164.0, 690.5 172.7, 687 180 C683.5 187.3, 679.3 194.0, 676 201 C672.7 208.0, 669.2 215.2, 667 222 C664.8 228.8, 663.2 235.7, 663 242 C662.8 248.3, 663.8 254.3, 666 260 C668.2 265.7, 671.5 271.5, 676 276 C680.5 280.5, 686.5 284.7, 693 287 C699.5 289.3, 707.2 289.8, 715 290 C722.8 290.2, 729.2 290.5, 740 288 C750.8 285.5, 766.7 279.5, 780 275 C793.3 270.5, 808.3 265.0, 820 261 C831.7 257.0, 845.0 252.7, 850 251" fill="none" stroke="#323232" stroke-width="33.0" stroke-linecap="butt"/><path d="M632 110 C638.0 110.0, 658.5 109.5, 668 110 C677.5 110.5, 683.7 110.8, 689 113 C694.3 115.2, 697.7 118.8, 700 123 C702.3 127.2, 703.5 132.3, 703 138 C702.5 143.7, 699.7 150.0, 697 157 C694.3 164.0, 690.5 172.7, 687 180 C683.5 187.3, 679.3 194.0, 676 201 C672.7 208.0, 669.2 215.2, 667 222 C664.8 228.8, 663.2 235.7, 663 242 C662.8 248.3, 663.8 254.3, 666 260 C668.2 265.7, 671.5 271.5, 676 276 C680.5 280.5, 686.5 284.7, 693 287 C699.5 289.3, 707.2 289.8, 715 290 C722.8 290.2, 729.2 290.5, 740 288 C750.8 285.5, 766.7 279.5, 780 275 C793.3 270.5, 808.3 265.0, 820 261 C831.7 257.0, 845.0 252.7, 850 251" fill="none" stroke="#3b3b3b" stroke-width="30.692307692307693" stroke-linecap="butt"/><path d="M632 110 C638.0 110.0, 658.5 109.5, 668 110 C677.5 110.5, 683.7 110.8, 689 113 C694.3 115.2, 697.7 118.8, 700 123 C702.3 127.2, 703.5 132.3, 703 138 C702.5 143.7, 699.7 150.0, 697 157 C694.3 164.0, 690.5 172.7, 687 180 C683.5 187.3, 679.3 194.0, 676 201 C672.7 208.0, 669.2 215.2, 667 222 C664.8 228.8, 663.2 235.7, 663 242 C662.8 248.3, 663.8 254.3, 666 260 C668.2 265.7, 671.5 271.5, 676 276 C680.5 280.5, 686.5 284.7, 693 287 C699.5 289.3, 707.2 289.8, 715 290 C722.8 290.2, 729.2 290.5, 740 288 C750.8 285.5, 766.7 279.5, 780 275 C793.3 270.5, 808.3 265.0, 820 261 C831.7 257.0, 845.0 252.7, 850 251" fill="none" stroke="#434343" stroke-width="28.384615384615383" stroke-linecap="butt"/><path d="M632 110 C638.0 110.0, 658.5 109.5, 668 110 C677.5 110.5, 683.7 110.8, 689 113 C694.3 115.2, 697.7 118.8, 700 123 C702.3 127.2, 703.5 132.3, 703 138 C702.5 143.7, 699.7 150.0, 697 157 C694.3 164.0, 690.5 172.7, 687 180 C683.5 187.3, 679.3 194.0, 676 201 C672.7 208.0, 669.2 215.2, 667 222 C664.8 228.8, 663.2 235.7, 663 242 C662.8 248.3, 663.8 254.3, 666 260 C668.2 265.7, 671.5 271.5, 676 276 C680.5 280.5, 686.5 284.7, 693 287 C699.5 289.3, 707.2 289.8, 715 290 C722.8 290.2, 729.2 290.5, 740 288 C750.8 285.5, 766.7 279.5, 780 275 C793.3 270.5, 808.3 265.0, 820 261 C831.7 257.0, 845.0 252.7, 850 251" fill="none" stroke="#4a4a4a" stroke-width="26.076923076923077" stroke-linecap="butt"/><path d="M632 110 C638.0 110.0, 658.5 109.5, 668 110 C677.5 110.5, 683.7 110.8, 689 113 C694.3 115.2, 697.7 118.8, 700 123 C702.3 127.2, 703.5 132.3, 703 138 C702.5 143.7, 699.7 150.0, 697 157 C694.3 164.0, 690.5 172.7, 687 180 C683.5 187.3, 679.3 194.0, 676 201 C672.7 208.0, 669.2 215.2, 667 222 C664.8 228.8, 663.2 235.7, 663 242 C662.8 248.3, 663.8 254.3, 666 260 C668.2 265.7, 671.5 271.5, 676 276 C680.5 280.5, 686.5 284.7, 693 287 C699.5 289.3, 707.2 289.8, 715 290 C722.8 290.2, 729.2 290.5, 740 288 C750.8 285.5, 766.7 279.5, 780 275 C793.3 270.5, 808.3 265.0, 820 261 C831.7 257.0, 845.0 252.7, 850 251" fill="none" stroke="#515151" stroke-width="23.76923076923077" stroke-linecap="butt"/><path d="M632 110 C638.0 110.0, 658.5 109.5, 668 110 C677.5 110.5, 683.7 110.8, 689 113 C694.3 115.2, 697.7 118.8, 700 123 C702.3 127.2, 703.5 132.3, 703 138 C702.5 143.7, 699.7 150.0, 697 157 C694.3 164.0, 690.5 172.7, 687 180 C683.5 187.3, 679.3 194.0, 676 201 C672.7 208.0, 669.2 215.2, 667 222 C664.8 228.8, 663.2 235.7, 663 242 C662.8 248.3, 663.8 254.3, 666 260 C668.2 265.7, 671.5 271.5, 676 276 C680.5 280.5, 686.5 284.7, 693 287 C699.5 289.3, 707.2 289.8, 715 290 C722.8 290.2, 729.2 290.5, 740 288 C750.8 285.5, 766.7 279.5, 780 275 C793.3 270.5, 808.3 265.0, 820 261 C831.7 257.0, 845.0 252.7, 850 251" fill="none" stroke="#575757" stroke-width="21.461538461538463" stroke-linecap="butt"/><path d="M632 110 C638.0 110.0, 658.5 109.5, 668 110 C677.5 110.5, 683.7 110.8, 689 113 C694.3 115.2, 697.7 118.8, 700 123 C702.3 127.2, 703.5 132.3, 703 138 C702.5 143.7, 699.7 150.0, 697 157 C694.3 164.0, 690.5 172.7, 687 180 C683.5 187.3, 679.3 194.0, 676 201 C672.7 208.0, 669.2 215.2, 667 222 C664.8 228.8, 663.2 235.7, 663 242 C662.8 248.3, 663.8 254.3, 666 260 C668.2 265.7, 671.5 271.5, 676 276 C680.5 280.5, 686.5 284.7, 693 287 C699.5 289.3, 707.2 289.8, 715 290 C722.8 290.2, 729.2 290.5, 740 288 C750.8 285.5, 766.7 279.5, 780 275 C793.3 270.5, 808.3 265.0, 820 261 C831.7 257.0, 845.0 252.7, 850 251" fill="none" stroke="#5c5c5c" stroke-width="19.153846153846153" stroke-linecap="butt"/><path d="M632 110 C638.0 110.0, 658.5 109.5, 668 110 C677.5 110.5, 683.7 110.8, 689 113 C694.3 115.2, 697.7 118.8, 700 123 C702.3 127.2, 703.5 132.3, 703 138 C702.5 143.7, 699.7 150.0, 697 157 C694.3 164.0, 690.5 172.7, 687 180 C683.5 187.3, 679.3 194.0, 676 201 C672.7 208.0, 669.2 215.2, 667 222 C664.8 228.8, 663.2 235.7, 663 242 C662.8 248.3, 663.8 254.3, 666 260 C668.2 265.7, 671.5 271.5, 676 276 C680.5 280.5, 686.5 284.7, 693 287 C699.5 289.3, 707.2 289.8, 715 290 C722.8 290.2, 729.2 290.5, 740 288 C750.8 285.5, 766.7 279.5, 780 275 C793.3 270.5, 808.3 265.0, 820 261 C831.7 257.0, 845.0 252.7, 850 251" fill="none" stroke="#616161" stroke-width="16.846153846153847" stroke-linecap="butt"/><path d="M632 110 C638.0 110.0, 658.5 109.5, 668 110 C677.5 110.5, 683.7 110.8, 689 113 C694.3 115.2, 697.7 118.8, 700 123 C702.3 127.2, 703.5 132.3, 703 138 C702.5 143.7, 699.7 150.0, 697 157 C694.3 164.0, 690.5 172.7, 687 180 C683.5 187.3, 679.3 194.0, 676 201 C672.7 208.0, 669.2 215.2, 667 222 C664.8 228.8, 663.2 235.7, 663 242 C662.8 248.3, 663.8 254.3, 666 260 C668.2 265.7, 671.5 271.5, 676 276 C680.5 280.5, 686.5 284.7, 693 287 C699.5 289.3, 707.2 289.8, 715 290 C722.8 290.2, 729.2 290.5, 740 288 C750.8 285.5, 766.7 279.5, 780 275 C793.3 270.5, 808.3 265.0, 820 261 C831.7 257.0, 845.0 252.7, 850 251" fill="none" stroke="#666666" stroke-width="14.538461538461538" stroke-linecap="butt"/><path d="M632 110 C638.0 110.0, 658.5 109.5, 668 110 C677.5 110.5, 683.7 110.8, 689 113 C694.3 115.2, 697.7 118.8, 700 123 C702.3 127.2, 703.5 132.3, 703 138 C702.5 143.7, 699.7 150.0, 697 157 C694.3 164.0, 690.5 172.7, 687 180 C683.5 187.3, 679.3 194.0, 676 201 C672.7 208.0, 669.2 215.2, 667 222 C664.8 228.8, 663.2 235.7, 663 242 C662.8 248.3, 663.8 254.3, 666 260 C668.2 265.7, 671.5 271.5, 676 276 C680.5 280.5, 686.5 284.7, 693 287 C699.5 289.3, 707.2 289.8, 715 290 C722.8 290.2, 729.2 290.5, 740 288 C750.8 285.5, 766.7 279.5, 780 275 C793.3 270.5, 808.3 265.0, 820 261 C831.7 257.0, 845.0 252.7, 850 251" fill="none" stroke="#696969" stroke-width="12.230769230769232" stroke-linecap="butt"/><path d="M632 110 C638.0 110.0, 658.5 109.5, 668 110 C677.5 110.5, 683.7 110.8, 689 113 C694.3 115.2, 697.7 118.8, 700 123 C702.3 127.2, 703.5 132.3, 703 138 C702.5 143.7, 699.7 150.0, 697 157 C694.3 164.0, 690.5 172.7, 687 180 C683.5 187.3, 679.3 194.0, 676 201 C672.7 208.0, 669.2 215.2, 667 222 C664.8 228.8, 663.2 235.7, 663 242 C662.8 248.3, 663.8 254.3, 666 260 C668.2 265.7, 671.5 271.5, 676 276 C680.5 280.5, 686.5 284.7, 693 287 C699.5 289.3, 707.2 289.8, 715 290 C722.8 290.2, 729.2 290.5, 740 288 C750.8 285.5, 766.7 279.5, 780 275 C793.3 270.5, 808.3 265.0, 820 261 C831.7 257.0, 845.0 252.7, 850 251" fill="none" stroke="#6c6c6c" stroke-width="9.923076923076922" stroke-linecap="butt"/><path d="M632 110 C638.0 110.0, 658.5 109.5, 668 110 C677.5 110.5, 683.7 110.8, 689 113 C694.3 115.2, 697.7 118.8, 700 123 C702.3 127.2, 703.5 132.3, 703 138 C702.5 143.7, 699.7 150.0, 697 157 C694.3 164.0, 690.5 172.7, 687 180 C683.5 187.3, 679.3 194.0, 676 201 C672.7 208.0, 669.2 215.2, 667 222 C664.8 228.8, 663.2 235.7, 663 242 C662.8 248.3, 663.8 254.3, 666 260 C668.2 265.7, 671.5 271.5, 676 276 C680.5 280.5, 686.5 284.7, 693 287 C699.5 289.3, 707.2 289.8, 715 290 C722.8 290.2, 729.2 290.5, 740 288 C750.8 285.5, 766.7 279.5, 780 275 C793.3 270.5, 808.3 265.0, 820 261 C831.7 257.0, 845.0 252.7, 850 251" fill="none" stroke="#6e6e6e" stroke-width="7.615384615384616" stroke-linecap="butt"/><path d="M632 110 C638.0 110.0, 658.5 109.5, 668 110 C677.5 110.5, 683.7 110.8, 689 113 C694.3 115.2, 697.7 118.8, 700 123 C702.3 127.2, 703.5 132.3, 703 138 C702.5 143.7, 699.7 150.0, 697 157 C694.3 164.0, 690.5 172.7, 687 180 C683.5 187.3, 679.3 194.0, 676 201 C672.7 208.0, 669.2 215.2, 667 222 C664.8 228.8, 663.2 235.7, 663 242 C662.8 248.3, 663.8 254.3, 666 260 C668.2 265.7, 671.5 271.5, 676 276 C680.5 280.5, 686.5 284.7, 693 287 C699.5 289.3, 707.2 289.8, 715 290 C722.8 290.2, 729.2 290.5, 740 288 C750.8 285.5, 766.7 279.5, 780 275 C793.3 270.5, 808.3 265.0, 820 261 C831.7 257.0, 845.0 252.7, 850 251" fill="none" stroke="#6f6f6f" stroke-width="5.307692307692306" stroke-linecap="butt"/><path d="M632 110 C638.0 110.0, 658.5 109.5, 668 110 C677.5 110.5, 683.7 110.8, 689 113 C694.3 115.2, 697.7 118.8, 700 123 C702.3 127.2, 703.5 132.3, 703 138 C702.5 143.7, 699.7 150.0, 697 157 C694.3 164.0, 690.5 172.7, 687 180 C683.5 187.3, 679.3 194.0, 676 201 C672.7 208.0, 669.2 215.2, 667 222 C664.8 228.8, 663.2 235.7, 663 242 C662.8 248.3, 663.8 254.3, 666 260 C668.2 265.7, 671.5 271.5, 676 276 C680.5 280.5, 686.5 284.7, 693 287 C699.5 289.3, 707.2 289.8, 715 290 C722.8 290.2, 729.2 290.5, 740 288 C750.8 285.5, 766.7 279.5, 780 275 C793.3 270.5, 808.3 265.0, 820 261 C831.7 257.0, 845.0 252.7, 850 251" fill="none" stroke="#707070" stroke-width="3.0" stroke-linecap="butt"/><ellipse cx="632.4" cy="110.7" rx="15.4" ry="14.6" fill="#a9a9b2"/><g clip-path="url(#fe1)"><polygon points="617.0,107.7 636.4,108.7 640.4,125.3 617.0,125.3" fill="#dcb040" filter="url(#blur1)"/><polygon points="617.0,96.10000000000001 630.4,96.10000000000001 632.4,107.7 617.0,107.7" fill="#78c090" opacity="0.8" filter="url(#blur1)"/><circle cx="626.4" cy="99.9" r="1.75" fill="#ececf2" fill-opacity="0.45" stroke="#30303c" stroke-width="0.9"/><circle cx="630.4" cy="99.9" r="1.75" fill="#ececf2" fill-opacity="0.45" stroke="#30303c" stroke-width="0.9"/><circle cx="634.4" cy="99.9" r="1.75" fill="#ececf2" fill-opacity="0.45" stroke="#30303c" stroke-width="0.9"/><circle cx="638.4" cy="99.9" r="1.75" fill="#ececf2" fill-opacity="0.45" stroke="#30303c" stroke-width="0.9"/><circle cx="624.4" cy="103.5" r="1.75" fill="#ececf2" fill-opacity="0.45" stroke="#30303c" stroke-width="0.9"/><circle cx="628.4" cy="103.5" r="1.75" fill="#ececf2" fill-opacity="0.45" stroke="#30303c" stroke-width="0.9"/><circle cx="632.4" cy="103.5" r="1.75" fill="#ececf2" fill-opacity="0.45" stroke="#30303c" stroke-width="0.9"/><circle cx="636.4" cy="103.5" r="1.75" fill="#ececf2" fill-opacity="0.45" stroke="#30303c" stroke-width="0.9"/><circle cx="640.4" cy="103.5" r="1.75" fill="#ececf2" fill-opacity="0.45" stroke="#30303c" stroke-width="0.9"/><circle cx="622.4" cy="107.1" r="1.75" fill="#ececf2" fill-opacity="0.45" stroke="#30303c" stroke-width="0.9"/><circle cx="626.4" cy="107.1" r="1.75" fill="#ececf2" fill-opacity="0.45" stroke="#30303c" stroke-width="0.9"/><circle cx="630.4" cy="107.1" r="1.75" fill="#ececf2" fill-opacity="0.45" stroke="#30303c" stroke-width="0.9"/><circle cx="634.4" cy="107.1" r="1.75" fill="#ececf2" fill-opacity="0.45" stroke="#30303c" stroke-width="0.9"/><circle cx="638.4" cy="107.1" r="1.75" fill="#ececf2" fill-opacity="0.45" stroke="#30303c" stroke-width="0.9"/><circle cx="642.4" cy="107.1" r="1.75" fill="#ececf2" fill-opacity="0.45" stroke="#30303c" stroke-width="0.9"/><circle cx="620.4" cy="110.7" r="1.75" fill="#ececf2" fill-opacity="0.45" stroke="#30303c" stroke-width="0.9"/><circle cx="624.4" cy="110.7" r="1.75" fill="#ececf2" fill-opacity="0.45" stroke="#30303c" stroke-width="0.9"/><circle cx="628.4" cy="110.7" r="1.75" fill="#ececf2" fill-opacity="0.45" stroke="#30303c" stroke-width="0.9"/><circle cx="632.4" cy="110.7" r="1.75" fill="#ececf2" fill-opacity="0.45" stroke="#30303c" stroke-width="0.9"/><circle cx="636.4" cy="110.7" r="1.75" fill="#ececf2" fill-opacity="0.45" stroke="#30303c" stroke-width="0.9"/><circle cx="640.4" cy="110.7" r="1.75" fill="#ececf2" fill-opacity="0.45" stroke="#30303c" stroke-width="0.9"/><circle cx="644.4" cy="110.7" r="1.75" fill="#ececf2" fill-opacity="0.45" stroke="#30303c" stroke-width="0.9"/><circle cx="622.4" cy="114.3" r="1.75" fill="#ececf2" fill-opacity="0.45" stroke="#30303c" stroke-width="0.9"/><circle cx="626.4" cy="114.3" r="1.75" fill="#ececf2" fill-opacity="0.45" stroke="#30303c" stroke-width="0.9"/><circle cx="630.4" cy="114.3" r="1.75" fill="#ececf2" fill-opacity="0.45" stroke="#30303c" stroke-width="0.9"/><circle cx="634.4" cy="114.3" r="1.75" fill="#ececf2" fill-opacity="0.45" stroke="#30303c" stroke-width="0.9"/><circle cx="638.4" cy="114.3" r="1.75" fill="#ececf2" fill-opacity="0.45" stroke="#30303c" stroke-width="0.9"/><circle cx="642.4" cy="114.3" r="1.75" fill="#ececf2" fill-opacity="0.45" stroke="#30303c" stroke-width="0.9"/><circle cx="624.4" cy="117.9" r="1.75" fill="#ececf2" fill-opacity="0.45" stroke="#30303c" stroke-width="0.9"/><circle cx="628.4" cy="117.9" r="1.75" fill="#ececf2" fill-opacity="0.45" stroke="#30303c" stroke-width="0.9"/><circle cx="632.4" cy="117.9" r="1.75" fill="#ececf2" fill-opacity="0.45" stroke="#30303c" stroke-width="0.9"/><circle cx="636.4" cy="117.9" r="1.75" fill="#ececf2" fill-opacity="0.45" stroke="#30303c" stroke-width="0.9"/><circle cx="640.4" cy="117.9" r="1.75" fill="#ececf2" fill-opacity="0.45" stroke="#30303c" stroke-width="0.9"/><circle cx="626.4" cy="121.5" r="1.75" fill="#ececf2" fill-opacity="0.45" stroke="#30303c" stroke-width="0.9"/><circle cx="630.4" cy="121.5" r="1.75" fill="#ececf2" fill-opacity="0.45" stroke="#30303c" stroke-width="0.9"/><circle cx="634.4" cy="121.5" r="1.75" fill="#ececf2" fill-opacity="0.45" stroke="#30303c" stroke-width="0.9"/><circle cx="638.4" cy="121.5" r="1.75" fill="#ececf2" fill-opacity="0.45" stroke="#30303c" stroke-width="0.9"/></g><ellipse cx="632.4" cy="110.7" rx="15.4" ry="14.6" fill="none" stroke="#1e1e26" stroke-width="1.5"/><ellipse cx="850" cy="251" rx="15.8" ry="15" fill="#a9a9b2"/><g clip-path="url(#fe2)"><polygon points="834.2,236 856,236 858,253 834.2,253" fill="#6cbf80" opacity="0.85" filter="url(#blur1)"/><polygon points="834.2,253 854,253 852,266 834.2,266" fill="#d8d4a8" opacity="0.6" filter="url(#blur1)"/><circle cx="844.0" cy="240.2" r="1.75" fill="#ececf2" fill-opacity="0.45" stroke="#30303c" stroke-width="0.9"/><circle cx="848.0" cy="240.2" r="1.75" fill="#ececf2" fill-opacity="0.45" stroke="#30303c" stroke-width="0.9"/><circle cx="852.0" cy="240.2" r="1.75" fill="#ececf2" fill-opacity="0.45" stroke="#30303c" stroke-width="0.9"/><circle cx="856.0" cy="240.2" r="1.75" fill="#ececf2" fill-opacity="0.45" stroke="#30303c" stroke-width="0.9"/><circle cx="838.0" cy="243.8" r="1.75" fill="#ececf2" fill-opacity="0.45" stroke="#30303c" stroke-width="0.9"/><circle cx="842.0" cy="243.8" r="1.75" fill="#ececf2" fill-opacity="0.45" stroke="#30303c" stroke-width="0.9"/><circle cx="846.0" cy="243.8" r="1.75" fill="#ececf2" fill-opacity="0.45" stroke="#30303c" stroke-width="0.9"/><circle cx="850.0" cy="243.8" r="1.75" fill="#ececf2" fill-opacity="0.45" stroke="#30303c" stroke-width="0.9"/><circle cx="854.0" cy="243.8" r="1.75" fill="#ececf2" fill-opacity="0.45" stroke="#30303c" stroke-width="0.9"/><circle cx="858.0" cy="243.8" r="1.75" fill="#ececf2" fill-opacity="0.45" stroke="#30303c" stroke-width="0.9"/><circle cx="862.0" cy="243.8" r="1.75" fill="#ececf2" fill-opacity="0.45" stroke="#30303c" stroke-width="0.9"/><circle cx="836.0" cy="247.4" r="1.75" fill="#ececf2" fill-opacity="0.45" stroke="#30303c" stroke-width="0.9"/><circle cx="840.0" cy="247.4" r="1.75" fill="#ececf2" fill-opacity="0.45" stroke="#30303c" stroke-width="0.9"/><circle cx="844.0" cy="247.4" r="1.75" fill="#ececf2" fill-opacity="0.45" stroke="#30303c" stroke-width="0.9"/><circle cx="848.0" cy="247.4" r="1.75" fill="#ececf2" fill-opacity="0.45" stroke="#30303c" stroke-width="0.9"/><circle cx="852.0" cy="247.4" r="1.75" fill="#ececf2" fill-opacity="0.45" stroke="#30303c" stroke-width="0.9"/><circle cx="856.0" cy="247.4" r="1.75" fill="#ececf2" fill-opacity="0.45" stroke="#30303c" stroke-width="0.9"/><circle cx="860.0" cy="247.4" r="1.75" fill="#ececf2" fill-opacity="0.45" stroke="#30303c" stroke-width="0.9"/><circle cx="864.0" cy="247.4" r="1.75" fill="#ececf2" fill-opacity="0.45" stroke="#30303c" stroke-width="0.9"/><circle cx="838.0" cy="251.0" r="1.75" fill="#ececf2" fill-opacity="0.45" stroke="#30303c" stroke-width="0.9"/><circle cx="842.0" cy="251.0" r="1.75" fill="#ececf2" fill-opacity="0.45" stroke="#30303c" stroke-width="0.9"/><circle cx="846.0" cy="251.0" r="1.75" fill="#ececf2" fill-opacity="0.45" stroke="#30303c" stroke-width="0.9"/><circle cx="850.0" cy="251.0" r="1.75" fill="#ececf2" fill-opacity="0.45" stroke="#30303c" stroke-width="0.9"/><circle cx="854.0" cy="251.0" r="1.75" fill="#ececf2" fill-opacity="0.45" stroke="#30303c" stroke-width="0.9"/><circle cx="858.0" cy="251.0" r="1.75" fill="#ececf2" fill-opacity="0.45" stroke="#30303c" stroke-width="0.9"/><circle cx="862.0" cy="251.0" r="1.75" fill="#ececf2" fill-opacity="0.45" stroke="#30303c" stroke-width="0.9"/><circle cx="836.0" cy="254.6" r="1.75" fill="#ececf2" fill-opacity="0.45" stroke="#30303c" stroke-width="0.9"/><circle cx="840.0" cy="254.6" r="1.75" fill="#ececf2" fill-opacity="0.45" stroke="#30303c" stroke-width="0.9"/><circle cx="844.0" cy="254.6" r="1.75" fill="#ececf2" fill-opacity="0.45" stroke="#30303c" stroke-width="0.9"/><circle cx="848.0" cy="254.6" r="1.75" fill="#ececf2" fill-opacity="0.45" stroke="#30303c" stroke-width="0.9"/><circle cx="852.0" cy="254.6" r="1.75" fill="#ececf2" fill-opacity="0.45" stroke="#30303c" stroke-width="0.9"/><circle cx="856.0" cy="254.6" r="1.75" fill="#ececf2" fill-opacity="0.45" stroke="#30303c" stroke-width="0.9"/><circle cx="860.0" cy="254.6" r="1.75" fill="#ececf2" fill-opacity="0.45" stroke="#30303c" stroke-width="0.9"/><circle cx="864.0" cy="254.6" r="1.75" fill="#ececf2" fill-opacity="0.45" stroke="#30303c" stroke-width="0.9"/><circle cx="838.0" cy="258.2" r="1.75" fill="#ececf2" fill-opacity="0.45" stroke="#30303c" stroke-width="0.9"/><circle cx="842.0" cy="258.2" r="1.75" fill="#ececf2" fill-opacity="0.45" stroke="#30303c" stroke-width="0.9"/><circle cx="846.0" cy="258.2" r="1.75" fill="#ececf2" fill-opacity="0.45" stroke="#30303c" stroke-width="0.9"/><circle cx="850.0" cy="258.2" r="1.75" fill="#ececf2" fill-opacity="0.45" stroke="#30303c" stroke-width="0.9"/><circle cx="854.0" cy="258.2" r="1.75" fill="#ececf2" fill-opacity="0.45" stroke="#30303c" stroke-width="0.9"/><circle cx="858.0" cy="258.2" r="1.75" fill="#ececf2" fill-opacity="0.45" stroke="#30303c" stroke-width="0.9"/><circle cx="862.0" cy="258.2" r="1.75" fill="#ececf2" fill-opacity="0.45" stroke="#30303c" stroke-width="0.9"/><circle cx="844.0" cy="261.8" r="1.75" fill="#ececf2" fill-opacity="0.45" stroke="#30303c" stroke-width="0.9"/><circle cx="848.0" cy="261.8" r="1.75" fill="#ececf2" fill-opacity="0.45" stroke="#30303c" stroke-width="0.9"/><circle cx="852.0" cy="261.8" r="1.75" fill="#ececf2" fill-opacity="0.45" stroke="#30303c" stroke-width="0.9"/><circle cx="856.0" cy="261.8" r="1.75" fill="#ececf2" fill-opacity="0.45" stroke="#30303c" stroke-width="0.9"/></g><ellipse cx="850" cy="251" rx="15.8" ry="15" fill="none" stroke="#1e1e26" stroke-width="1.5"/><rect x="893" y="228.5" width="45" height="44" fill="#f3cdb1"/><g clip-path="url(#objclip)"><path d="M887.6 222.0 c5 1.5 9 4 14 4.5 s8 1 13 4.5 s9 3 14 5.5" fill="none" stroke="#cf9c7e" stroke-width="0.9" opacity="0.8"/><path d="M888.5 227.2 c5 1.5 9 4 14 4.5 s8 1 13 4.5 s9 3 14 5.5" fill="none" stroke="#cf9c7e" stroke-width="0.9" opacity="0.8"/><path d="M891.4 232.4 c5 1.5 9 4 14 4.5 s8 1 13 4.5 s9 3 14 5.5" fill="none" stroke="#cf9c7e" stroke-width="0.9" opacity="0.8"/><path d="M887.7 237.6 c5 1.5 9 4 14 4.5 s8 1 13 4.5 s9 3 14 5.5" fill="none" stroke="#cf9c7e" stroke-width="0.9" opacity="0.8"/><path d="M888.1 242.8 c5 1.5 9 4 14 4.5 s8 1 13 4.5 s9 3 14 5.5" fill="none" stroke="#cf9c7e" stroke-width="0.9" opacity="0.8"/><path d="M888.7 248.0 c5 1.5 9 4 14 4.5 s8 1 13 4.5 s9 3 14 5.5" fill="none" stroke="#cf9c7e" stroke-width="0.9" opacity="0.8"/><path d="M885.5 253.2 c5 1.5 9 4 14 4.5 s8 1 13 4.5 s9 3 14 5.5" fill="none" stroke="#cf9c7e" stroke-width="0.9" opacity="0.8"/><path d="M888.1 258.4 c5 1.5 9 4 14 4.5 s8 1 13 4.5 s9 3 14 5.5" fill="none" stroke="#cf9c7e" stroke-width="0.9" opacity="0.8"/><path d="M889.0 263.6 c5 1.5 9 4 14 4.5 s8 1 13 4.5 s9 3 14 5.5" fill="none" stroke="#cf9c7e" stroke-width="0.9" opacity="0.8"/><path d="M890.3 268.8 c5 1.5 9 4 14 4.5 s8 1 13 4.5 s9 3 14 5.5" fill="none" stroke="#cf9c7e" stroke-width="0.9" opacity="0.8"/><path d="M884.8 274.0 c5 1.5 9 4 14 4.5 s8 1 13 4.5 s9 3 14 5.5" fill="none" stroke="#cf9c7e" stroke-width="0.9" opacity="0.8"/><ellipse cx="907.8" cy="234.5" rx="3.5" ry="1.6" transform="rotate(25 907.8 234.5)" fill="none" stroke="#d9a688" stroke-width="0.7" opacity="0.7"/><ellipse cx="927.6" cy="258.0" rx="3.5" ry="1.6" transform="rotate(25 927.6 258.0)" fill="none" stroke="#d9a688" stroke-width="0.7" opacity="0.7"/><ellipse cx="897.6" cy="269.3" rx="3.5" ry="1.6" transform="rotate(25 897.6 269.3)" fill="none" stroke="#d9a688" stroke-width="0.7" opacity="0.7"/><ellipse cx="933.6" cy="256.5" rx="3.5" ry="1.6" transform="rotate(25 933.6 256.5)" fill="none" stroke="#d9a688" stroke-width="0.7" opacity="0.7"/><ellipse cx="920.0" cy="237.1" rx="3.5" ry="1.6" transform="rotate(25 920.0 237.1)" fill="none" stroke="#d9a688" stroke-width="0.7" opacity="0.7"/><ellipse cx="896.6" cy="251.6" rx="3.5" ry="1.6" transform="rotate(25 896.6 251.6)" fill="none" stroke="#d9a688" stroke-width="0.7" opacity="0.7"/><ellipse cx="898.3" cy="238.4" rx="3.5" ry="1.6" transform="rotate(25 898.3 238.4)" fill="none" stroke="#d9a688" stroke-width="0.7" opacity="0.7"/><ellipse cx="905.4" cy="232.2" rx="3.5" ry="1.6" transform="rotate(25 905.4 232.2)" fill="none" stroke="#d9a688" stroke-width="0.7" opacity="0.7"/><ellipse cx="914.1" cy="248.2" rx="3.5" ry="1.6" transform="rotate(25 914.1 248.2)" fill="none" stroke="#d9a688" stroke-width="0.7" opacity="0.7"/></g><polygon points="865,244 893.5,237.5 893.5,257.5 865,256.5" fill="url(#objbeamout)" opacity="0.85" filter="url(#blur07)"/><polygon points="893.5,237 905.7,236.7 905.7,256.2 893.5,257" fill="url(#objbeam)"/><rect x="893" y="228.5" width="45" height="44" fill="none" stroke="#111" stroke-width="2"/><text x="715.0" y="189.0" font-size="15.99" textLength="91.0" lengthAdjust="spacingAndGlyphs" fill="#111" stroke="#111" stroke-width="0.35" style="font-family:'Liberation Sans',sans-serif;font-weight:bold">Fiber bundle</text><text x="892.0" y="293.6" font-size="15.26" textLength="48.0" lengthAdjust="spacingAndGlyphs" fill="#111" stroke="#111" stroke-width="0.35" style="font-family:'Liberation Sans',sans-serif;font-weight:bold">Object</text><g transform="translate(466,310.8) rotate(-36.7)"><rect x="-29.5" y="-3.4" width="59" height="6.8" fill="url(#mirg)" stroke="#9fb2d8" stroke-width="0.6"/></g><path d="M484 285 A 10 10 0 0 1 502 298" fill="none" stroke="#d42020" stroke-width="3.2"/><polygon points="479,284 487,279 487,290" fill="#d42020"/><path d="M430 325 A 10 10 0 0 0 446 337" fill="none" stroke="#d42020" stroke-width="3.2"/><polygon points="451,336 443,331 444,342" fill="#d42020"/><text x="185.0" y="70.5" font-size="14.24" textLength="97.0" lengthAdjust="spacingAndGlyphs" fill="#111" stroke="#111" stroke-width="0.35" style="font-family:'Liberation Sans',sans-serif;font-weight:bold">Beam splitter</text><text x="401.0" y="70.5" font-size="14.24" textLength="97.0" lengthAdjust="spacingAndGlyphs" fill="#111" stroke="#111" stroke-width="0.35" style="font-family:'Liberation Sans',sans-serif;font-weight:bold">Beam splitter</text><text x="194.5" y="358.8" font-size="14.24" textLength="97.5" lengthAdjust="spacingAndGlyphs" fill="#111" stroke="#111" stroke-width="0.35" style="font-family:'Liberation Sans',sans-serif;font-weight:bold">Beam splitter</text><text x="507.0" y="161.0" font-size="15.26" textLength="99.5" lengthAdjust="spacingAndGlyphs" fill="#111" stroke="#111" stroke-width="0.35" style="font-family:'Liberation Sans',sans-serif;font-weight:bold">Objective lens</text><text x="300.0" y="292.5" font-size="15.26" textLength="97.0" lengthAdjust="spacingAndGlyphs" fill="#111" stroke="#111" stroke-width="0.35" style="font-family:'Liberation Sans',sans-serif;font-weight:bold">Sample beam</text><text x="478.0" y="334.5" font-size="13.81" textLength="100.0" lengthAdjust="spacingAndGlyphs" fill="#111" stroke="#111" stroke-width="0.35" style="font-family:'Liberation Sans',sans-serif;font-weight:bold">Galvanometer</text><text x="504.0" y="352.0" font-size="14.53" textLength="47.0" lengthAdjust="spacingAndGlyphs" fill="#111" stroke="#111" stroke-width="0.35" style="font-family:'Liberation Sans',sans-serif;font-weight:bold">Mirror</text><g transform="translate(184,270) rotate(-90)"><text x="0" y="0" font-size="15.3" textLength="114" lengthAdjust="spacingAndGlyphs" fill="#111" stroke="#111" stroke-width="0.35" style="font-family:'Liberation Sans',sans-serif;font-weight:bold">Reference beam</text></g><text x="21" y="414" font-size="33" fill="#111" stroke="#111" stroke-width="0.6" style="font-family:'Liberation Sans',sans-serif;font-weight:bold">b</text><text x="87.0" y="439.0" font-size="20.35" textLength="117.0" lengthAdjust="spacingAndGlyphs" fill="#111" stroke="#111" stroke-width="0.35" style="font-family:'Liberation Sans',sans-serif;font-weight:bold">Proximal end</text><text x="289.5" y="438.0" font-size="20.35" textLength="89.5" lengthAdjust="spacingAndGlyphs" fill="#111" stroke="#111" stroke-width="0.35" style="font-family:'Liberation Sans',sans-serif;font-weight:bold">Distal end</text><text x="639.0" y="439.0" font-size="20.35" textLength="90.0" lengthAdjust="spacingAndGlyphs" fill="#111" stroke="#111" stroke-width="0.35" style="font-family:'Liberation Sans',sans-serif;font-weight:bold">Distal end</text><text x="868.0" y="439.0" font-size="20.35" textLength="118.0" lengthAdjust="spacingAndGlyphs" fill="#111" stroke="#111" stroke-width="0.35" style="font-family:'Liberation Sans',sans-serif;font-weight:bold">Proximal end</text><g filter="url(#blur2)"><polygon points="37,448 71,453 71,509 37,513" fill="url(#gw1)"/><polygon points="76,461 115,466 115,498 76,502" fill="url(#gw2)"/></g><path d="M124.4 458 L273 458 L273 613 L124.4 613 A 11 77.5 0 0 1 124.4 458 Z" fill="url(#bscyl)"/><rect x="273" y="458.00" width="76" height="17.52" fill="#6b7a8a"/><rect x="273" y="475.22" width="76" height="17.52" fill="#6b7a8a"/><rect x="273" y="492.44" width="76" height="17.52" fill="#6b7a8a"/><rect x="273" y="509.67" width="76" height="17.52" fill="#6b7a8a"/><rect x="273" y="526.89" width="76" height="17.52" fill="#6b7a8a"/><rect x="273" y="544.11" width="76" height="17.52" fill="#6b7a8a"/><rect x="273" y="561.33" width="76" height="17.52" fill="#6b7a8a"/><rect x="273" y="578.56" width="76" height="17.52" fill="#6b7a8a"/><rect x="273" y="595.78" width="76" height="17.52" fill="#6b7a8a"/><rect x="273" y="475.22" width="76" height="17.22" fill="url(#gstripe)"/><rect x="273" y="474.22" width="76" height="2" fill="#c6d2dc"/><rect x="273" y="491.44" width="76" height="2" fill="#c6d2dc"/><rect x="273" y="508.67" width="76" height="2" fill="#c6d2dc"/><rect x="273" y="525.89" width="76" height="2" fill="#c6d2dc"/><rect x="273" y="543.11" width="76" height="2" fill="#c6d2dc"/><rect x="273" y="560.33" width="76" height="2" fill="#c6d2dc"/><rect x="273" y="577.56" width="76" height="2" fill="#c6d2dc"/><rect x="273" y="594.78" width="76" height="2" fill="#c6d2dc"/><rect x="272.2" y="458" width="1.6" height="155" fill="#c6d2dc"/><rect x="348" y="458" width="1.6" height="155" fill="#c6d2dc"/><path d="M273 458 A 11.5 77.5 0 0 0 273 613 Z" fill="#56616f"/><ellipse cx="271.42" cy="466.61" rx="0.74" ry="7.58" fill="#dde9f4"/><ellipse cx="270.43" cy="483.83" rx="1.20" ry="7.58" fill="#dde9f4"/><ellipse cx="269.91" cy="501.06" rx="1.44" ry="7.58" fill="#dde9f4"/><ellipse cx="269.64" cy="518.28" rx="1.57" ry="7.58" fill="#dde9f4"/><ellipse cx="269.55" cy="535.50" rx="1.61" ry="7.58" fill="#dde9f4"/><ellipse cx="269.64" cy="552.72" rx="1.57" ry="7.58" fill="#dde9f4"/><ellipse cx="269.91" cy="569.94" rx="1.44" ry="7.58" fill="#dde9f4"/><ellipse cx="270.43" cy="587.17" rx="1.20" ry="7.58" fill="#dde9f4"/><ellipse cx="271.42" cy="604.39" rx="0.74" ry="7.58" fill="#dde9f4"/><ellipse cx="267.94" cy="475.22" rx="1.01" ry="7.58" fill="#dde9f4"/><ellipse cx="266.31" cy="492.44" rx="1.34" ry="7.58" fill="#dde9f4"/><ellipse cx="265.41" cy="509.67" rx="1.52" ry="7.58" fill="#dde9f4"/><ellipse cx="265.00" cy="526.89" rx="1.60" ry="7.58" fill="#dde9f4"/><ellipse cx="265.00" cy="544.11" rx="1.60" ry="7.58" fill="#dde9f4"/><ellipse cx="265.41" cy="561.33" rx="1.52" ry="7.58" fill="#dde9f4"/><ellipse cx="266.31" cy="578.56" rx="1.34" ry="7.58" fill="#dde9f4"/><ellipse cx="267.94" cy="595.78" rx="1.01" ry="7.58" fill="#dde9f4"/><path d="M273 458 A 11.5 77.5 0 0 0 273 613" fill="none" stroke="#4a5462" stroke-width="1"/><path d="M349 458 A 11.5 77.5 0 0 1 349 613 Z" fill="#56616f"/><ellipse cx="350.58" cy="466.61" rx="0.74" ry="7.58" fill="#dde9f4"/><ellipse cx="351.57" cy="483.83" rx="1.20" ry="7.58" fill="#5cc48e"/><ellipse cx="352.09" cy="501.06" rx="1.44" ry="7.58" fill="#dde9f4"/><ellipse cx="352.36" cy="518.28" rx="1.57" ry="7.58" fill="#dde9f4"/><ellipse cx="352.45" cy="535.50" rx="1.61" ry="7.58" fill="#dde9f4"/><ellipse cx="352.36" cy="552.72" rx="1.57" ry="7.58" fill="#dde9f4"/><ellipse cx="352.09" cy="569.94" rx="1.44" ry="7.58" fill="#dde9f4"/><ellipse cx="351.57" cy="587.17" rx="1.20" ry="7.58" fill="#dde9f4"/><ellipse cx="350.58" cy="604.39" rx="0.74" ry="7.58" fill="#dde9f4"/><ellipse cx="354.06" cy="475.22" rx="1.01" ry="7.58" fill="#5cc48e"/><ellipse cx="355.69" cy="492.44" rx="1.34" ry="7.58" fill="#5cc48e"/><ellipse cx="356.59" cy="509.67" rx="1.52" ry="7.58" fill="#dde9f4"/><ellipse cx="357.00" cy="526.89" rx="1.60" ry="7.58" fill="#dde9f4"/><ellipse cx="357.00" cy="544.11" rx="1.60" ry="7.58" fill="#dde9f4"/><ellipse cx="356.59" cy="561.33" rx="1.52" ry="7.58" fill="#dde9f4"/><ellipse cx="355.69" cy="578.56" rx="1.34" ry="7.58" fill="#dde9f4"/><ellipse cx="354.06" cy="595.78" rx="1.01" ry="7.58" fill="#dde9f4"/><path d="M349 458 A 11.5 77.5 0 0 1 349 613" fill="none" stroke="#4a5462" stroke-width="1"/><polygon points="203.0,452.5 203.0,454.0 202.7,455.5 202.3,457.0 201.7,458.5 200.9,460.0 199.9,461.5 198.8,463.0 197.6,464.5 196.3,466.0 194.9,467.5 193.5,469.0 192.0,470.5 190.6,472.0 189.3,473.5 188.0,475.0 186.8,476.5 185.8,478.0 184.9,479.5 184.1,481.0 183.5,482.5 183.2,484.0 183.0,485.5 183.0,487.0 183.3,488.5 183.7,490.0 184.3,491.5 185.1,493.0 186.1,494.5 187.2,496.0 188.4,497.5 189.7,499.0 191.1,500.5 192.5,502.0 194.0,503.5 195.4,505.0 196.7,506.5 198.0,508.0 199.2,509.5 200.2,511.0 201.1,512.5 201.9,514.0 202.5,515.5 202.8,517.0 203.0,518.5 203.0,520.0 202.7,521.5 202.3,523.0 201.7,524.5 200.9,526.0 199.9,527.5 198.8,529.0 197.6,530.5 196.3,532.0 194.9,533.5 193.5,535.0 192.0,536.5 190.6,538.0 189.3,539.5 188.0,541.0 186.8,542.5 185.8,544.0 184.9,545.5 184.1,547.0 183.5,548.5 183.2,550.0 183.0,551.5 183.0,553.0 183.3,554.5 183.7,556.0 184.3,557.5 185.1,559.0 186.1,560.5 187.2,562.0 188.4,563.5 189.7,565.0 191.1,566.5 192.5,568.0 194.0,569.5 195.4,571.0 196.7,572.5 198.0,574.0 199.2,575.5 200.2,577.0 201.1,578.5 201.9,580.0 202.5,581.5 202.8,583.0 203.0,584.5 203.0,586.0 202.7,587.5 202.3,589.0 201.7,590.5 200.9,592.0 199.9,593.5 198.8,595.0 197.6,596.5 196.3,598.0 194.9,599.5 193.5,601.0 192.0,602.5 190.6,604.0 189.3,605.5 188.0,607.0 186.8,608.5 185.8,610.0 184.9,611.5 184.1,613.0 183.5,614.5 183.2,616.0 183.0,617.5 183.0,619.0 183.3,620.5 183.7,622.0 207.2,622.0 206.8,620.5 206.5,619.0 206.5,617.5 206.7,616.0 207.0,614.5 207.6,613.0 208.4,611.5 209.3,610.0 210.3,608.5 211.5,607.0 212.8,605.5 214.1,604.0 215.5,602.5 217.0,601.0 218.4,599.5 219.8,598.0 221.1,596.5 222.3,595.0 223.4,593.5 224.4,592.0 225.2,590.5 225.8,589.0 226.2,587.5 226.5,586.0 226.5,584.5 226.3,583.0 226.0,581.5 225.4,580.0 224.6,578.5 223.7,577.0 222.7,575.5 221.5,574.0 220.2,572.5 218.9,571.0 217.5,569.5 216.0,568.0 214.6,566.5 213.2,565.0 211.9,563.5 210.7,562.0 209.6,560.5 208.6,559.0 207.8,557.5 207.2,556.0 206.8,554.5 206.5,553.0 206.5,551.5 206.7,550.0 207.0,548.5 207.6,547.0 208.4,545.5 209.3,544.0 210.3,542.5 211.5,541.0 212.8,539.5 214.1,538.0 215.5,536.5 217.0,535.0 218.4,533.5 219.8,532.0 221.1,530.5 222.3,529.0 223.4,527.5 224.4,526.0 225.2,524.5 225.8,523.0 226.2,521.5 226.5,520.0 226.5,518.5 226.3,517.0 226.0,515.5 225.4,514.0 224.6,512.5 223.7,511.0 222.7,509.5 221.5,508.0 220.2,506.5 218.9,505.0 217.5,503.5 216.0,502.0 214.6,500.5 213.2,499.0 211.9,497.5 210.7,496.0 209.6,494.5 208.6,493.0 207.8,491.5 207.2,490.0 206.8,488.5 206.5,487.0 206.5,485.5 206.7,484.0 207.0,482.5 207.6,481.0 208.4,479.5 209.3,478.0 210.3,476.5 211.5,475.0 212.8,473.5 214.1,472.0 215.5,470.5 217.0,469.0 218.4,467.5 219.8,466.0 221.1,464.5 222.3,463.0 223.4,461.5 224.4,460.0 225.2,458.5 225.8,457.0 226.2,455.5 226.5,454.0 226.5,452.5" fill="#fff"/><polyline points="203.0,452.5 203.0,454.0 202.7,455.5 202.3,457.0 201.7,458.5 200.9,460.0 199.9,461.5 198.8,463.0 197.6,464.5 196.3,466.0 194.9,467.5 193.5,469.0 192.0,470.5 190.6,472.0 189.3,473.5 188.0,475.0 186.8,476.5 185.8,478.0 184.9,479.5 184.1,481.0 183.5,482.5 183.2,484.0 183.0,485.5 183.0,487.0 183.3,488.5 183.7,490.0 184.3,491.5 185.1,493.0 186.1,494.5 187.2,496.0 188.4,497.5 189.7,499.0 191.1,500.5 192.5,502.0 194.0,503.5 195.4,505.0 196.7,506.5 198.0,508.0 199.2,509.5 200.2,511.0 201.1,512.5 201.9,514.0 202.5,515.5 202.8,517.0 203.0,518.5 203.0,520.0 202.7,521.5 202.3,523.0 201.7,524.5 200.9,526.0 199.9,527.5 198.8,529.0 197.6,530.5 196.3,532.0 194.9,533.5 193.5,535.0 192.0,536.5 190.6,538.0 189.3,539.5 188.0,541.0 186.8,542.5 185.8,544.0 184.9,545.5 184.1,547.0 183.5,548.5 183.2,550.0 183.0,551.5 183.0,553.0 183.3,554.5 183.7,556.0 184.3,557.5 185.1,559.0 186.1,560.5 187.2,562.0 188.4,563.5 189.7,565.0 191.1,566.5 192.5,568.0 194.0,569.5 195.4,571.0 196.7,572.5 198.0,574.0 199.2,575.5 200.2,577.0 201.1,578.5 201.9,580.0 202.5,581.5 202.8,583.0 203.0,584.5 203.0,586.0 202.7,587.5 202.3,589.0 201.7,590.5 200.9,592.0 199.9,593.5 198.8,595.0 197.6,596.5 196.3,598.0 194.9,599.5 193.5,601.0 192.0,602.5 190.6,604.0 189.3,605.5 188.0,607.0 186.8,608.5 185.8,610.0 184.9,611.5 184.1,613.0 183.5,614.5 183.2,616.0 183.0,617.5 183.0,619.0 183.3,620.5 183.7,622.0" fill="none" stroke="#151515" stroke-width="1.4"/><polyline points="226.5,452.5 226.5,454.0 226.2,455.5 225.8,457.0 225.2,458.5 224.4,460.0 223.4,461.5 222.3,463.0 221.1,464.5 219.8,466.0 218.4,467.5 217.0,469.0 215.5,470.5 214.1,472.0 212.8,473.5 211.5,475.0 210.3,476.5 209.3,478.0 208.4,479.5 207.6,481.0 207.0,482.5 206.7,484.0 206.5,485.5 206.5,487.0 206.8,488.5 207.2,490.0 207.8,491.5 208.6,493.0 209.6,494.5 210.7,496.0 211.9,497.5 213.2,499.0 214.6,500.5 216.0,502.0 217.5,503.5 218.9,505.0 220.2,506.5 221.5,508.0 222.7,509.5 223.7,511.0 224.6,512.5 225.4,514.0 226.0,515.5 226.3,517.0 226.5,518.5 226.5,520.0 226.2,521.5 225.8,523.0 225.2,524.5 224.4,526.0 223.4,527.5 222.3,529.0 221.1,530.5 219.8,532.0 218.4,533.5 217.0,535.0 215.5,536.5 214.1,538.0 212.8,539.5 211.5,541.0 210.3,542.5 209.3,544.0 208.4,545.5 207.6,547.0 207.0,548.5 206.7,550.0 206.5,551.5 206.5,553.0 206.8,554.5 207.2,556.0 207.8,557.5 208.6,559.0 209.6,560.5 210.7,562.0 211.9,563.5 213.2,565.0 214.6,566.5 216.0,568.0 217.5,569.5 218.9,571.0 220.2,572.5 221.5,574.0 222.7,575.5 223.7,577.0 224.6,578.5 225.4,580.0 226.0,581.5 226.3,583.0 226.5,584.5 226.5,586.0 226.2,587.5 225.8,589.0 225.2,590.5 224.4,592.0 223.4,593.5 222.3,595.0 221.1,596.5 219.8,598.0 218.4,599.5 217.0,601.0 215.5,602.5 214.1,604.0 212.8,605.5 211.5,607.0 210.3,608.5 209.3,610.0 208.4,611.5 207.6,613.0 207.0,614.5 206.7,616.0 206.5,617.5 206.5,619.0 206.8,620.5 207.2,622.0" fill="none" stroke="#151515" stroke-width="1.4"/><g clip-path="url(#illclip)"><rect x="350" y="395" width="190" height="180" fill="url(#gillum)" filter="url(#blur15)"/><rect x="350" y="395" width="190" height="180" fill="url(#gillumfade)"/></g><text x="397.0" y="489.0" font-size="20.35" textLength="107.0" lengthAdjust="spacingAndGlyphs" fill="#111" stroke="#111" stroke-width="0.35" style="font-family:'Liberation Sans',sans-serif;font-weight:bold">Illumination</text><rect x="528.2" y="477.8" width="7.2" height="104.8" fill="#3f68b8" stroke="#2d4f96" stroke-width="0.8"/><g clip-path="url(#refclip)"><rect x="530" y="500" width="175" height="130" fill="url(#gref)" filter="url(#blur1)"/><rect x="530" y="500" width="175" height="130" fill="url(#greffade)"/><rect x="530" y="500" width="175" height="130" fill="url(#greffade2)"/></g><text x="584.7" y="555.0" font-size="18.31" textLength="91.0" lengthAdjust="spacingAndGlyphs" fill="#111" stroke="#111" stroke-width="0.35" style="font-family:'Liberation Sans',sans-serif;font-weight:bold">Reflection</text><line x1="372.7" y1="605.5" x2="518" y2="605.5" stroke="#4670b4" stroke-width="1.6"/><polygon points="364.7,605.5 375.7,599.5 375.7,611.5" fill="#4670b4"/><polygon points="526,605.5 515,599.5 515,611.5" fill="#4670b4"/><line x1="544" y1="605.5" x2="691" y2="605.5" stroke="#4670b4" stroke-width="1.6"/><polygon points="536,605.5 547,599.5 547,611.5" fill="#4670b4"/><polygon points="699,605.5 688,599.5 688,611.5" fill="#4670b4"/><text x="448" y="636" font-size="19" text-anchor="middle" fill="#111" stroke="#111" stroke-width="0.4" style="font-family:'Liberation Sans',sans-serif;font-weight:bold">d</text><text x="623" y="636" font-size="19" text-anchor="middle" fill="#111" stroke="#111" stroke-width="0.4" style="font-family:'Liberation Sans',sans-serif;font-weight:bold">d</text><rect x="708" y="458.00" width="220" height="17.52" fill="#6b7a8a"/><rect x="708" y="475.22" width="220" height="17.52" fill="#6b7a8a"/><rect x="708" y="492.44" width="220" height="17.52" fill="#6b7a8a"/><rect x="708" y="509.67" width="220" height="17.52" fill="#6b7a8a"/><rect x="708" y="526.89" width="220" height="17.52" fill="#6b7a8a"/><rect x="708" y="544.11" width="220" height="17.52" fill="#6b7a8a"/><rect x="708" y="561.33" width="220" height="17.52" fill="#6b7a8a"/><rect x="708" y="578.56" width="220" height="17.52" fill="#6b7a8a"/><rect x="708" y="595.78" width="220" height="17.52" fill="#6b7a8a"/><rect x="708" y="509.67" width="220" height="17.52" fill="url(#ystr0)"/><rect x="708" y="526.89" width="220" height="17.52" fill="url(#ystr1)"/><rect x="708" y="544.11" width="220" height="17.52" fill="url(#ystr2)"/><rect x="708" y="561.33" width="220" height="17.52" fill="url(#ystr3)"/><rect x="708" y="578.56" width="220" height="17.52" fill="url(#ystr4)"/><rect x="708" y="595.78" width="220" height="17.52" fill="url(#ystr5)"/><rect x="708" y="474.22" width="220" height="2" fill="#c6d2dc"/><rect x="708" y="491.44" width="220" height="2" fill="#c6d2dc"/><rect x="708" y="508.67" width="220" height="2" fill="#c6d2dc"/><rect x="708" y="525.89" width="220" height="2" fill="#e6dcc0"/><rect x="708" y="543.11" width="220" height="2" fill="#e6dcc0"/><rect x="708" y="560.33" width="220" height="2" fill="#e6dcc0"/><rect x="708" y="577.56" width="220" height="2" fill="#e6dcc0"/><rect x="708" y="594.78" width="220" height="2" fill="#e6dcc0"/><rect x="707.2" y="458" width="1.6" height="155" fill="#c6d2dc"/><path d="M708 458 A 12 77.5 0 0 0 708 613 Z" fill="#56616f"/><ellipse cx="706.35" cy="466.61" rx="0.77" ry="7.58" fill="#dde9f4"/><ellipse cx="705.32" cy="483.83" rx="1.25" ry="7.58" fill="#dde9f4"/><ellipse cx="704.78" cy="501.06" rx="1.50" ry="7.58" fill="#dde9f4"/><ellipse cx="704.49" cy="518.28" rx="1.64" ry="7.58" fill="#dde9f4"/><ellipse cx="704.40" cy="535.50" rx="1.68" ry="7.58" fill="#dde9f4"/><ellipse cx="704.49" cy="552.72" rx="1.64" ry="7.58" fill="#dde9f4"/><ellipse cx="704.78" cy="569.94" rx="1.50" ry="7.58" fill="#dde9f4"/><ellipse cx="705.32" cy="587.17" rx="1.25" ry="7.58" fill="#dde9f4"/><ellipse cx="706.35" cy="604.39" rx="0.77" ry="7.58" fill="#dde9f4"/><ellipse cx="702.72" cy="475.22" rx="1.06" ry="7.58" fill="#dde9f4"/><ellipse cx="701.02" cy="492.44" rx="1.40" ry="7.58" fill="#dde9f4"/><ellipse cx="700.08" cy="509.67" rx="1.58" ry="7.58" fill="#dde9f4"/><ellipse cx="699.65" cy="526.89" rx="1.67" ry="7.58" fill="#dde9f4"/><ellipse cx="699.65" cy="544.11" rx="1.67" ry="7.58" fill="#dde9f4"/><ellipse cx="700.08" cy="561.33" rx="1.58" ry="7.58" fill="#dde9f4"/><ellipse cx="701.02" cy="578.56" rx="1.40" ry="7.58" fill="#dde9f4"/><ellipse cx="702.72" cy="595.78" rx="1.06" ry="7.58" fill="#dde9f4"/><path d="M708 458 A 12 77.5 0 0 0 708 613" fill="none" stroke="#4a5462" stroke-width="1"/><polygon points="814.3,451.0 814.5,452.5 814.5,454.0 814.2,455.5 813.8,457.0 813.2,458.5 812.4,460.0 811.4,461.5 810.3,463.0 809.1,464.5 807.8,466.0 806.4,467.5 805.0,469.0 803.5,470.5 802.1,472.0 800.8,473.5 799.5,475.0 798.3,476.5 797.3,478.0 796.4,479.5 795.6,481.0 795.0,482.5 794.7,484.0 794.5,485.5 794.5,487.0 794.8,488.5 795.2,490.0 795.8,491.5 796.6,493.0 797.6,494.5 798.7,496.0 799.9,497.5 801.2,499.0 802.6,500.5 804.0,502.0 805.5,503.5 806.9,505.0 808.2,506.5 809.5,508.0 810.7,509.5 811.7,511.0 812.6,512.5 813.4,514.0 814.0,515.5 814.3,517.0 814.5,518.5 814.5,520.0 814.2,521.5 813.8,523.0 813.2,524.5 812.4,526.0 811.4,527.5 810.3,529.0 809.1,530.5 807.8,532.0 806.4,533.5 805.0,535.0 803.5,536.5 802.1,538.0 800.8,539.5 799.5,541.0 798.3,542.5 797.3,544.0 796.4,545.5 795.6,547.0 795.0,548.5 794.7,550.0 794.5,551.5 794.5,553.0 794.8,554.5 795.2,556.0 795.8,557.5 796.6,559.0 797.6,560.5 798.7,562.0 799.9,563.5 801.2,565.0 802.6,566.5 804.0,568.0 805.5,569.5 806.9,571.0 808.2,572.5 809.5,574.0 810.7,575.5 811.7,577.0 812.6,578.5 813.4,580.0 814.0,581.5 814.3,583.0 814.5,584.5 814.5,586.0 814.2,587.5 813.8,589.0 813.2,590.5 812.4,592.0 811.4,593.5 810.3,595.0 809.1,596.5 807.8,598.0 806.4,599.5 805.0,601.0 803.5,602.5 802.1,604.0 800.8,605.5 799.5,607.0 798.3,608.5 797.3,610.0 796.4,611.5 795.6,613.0 795.0,614.5 794.7,616.0 794.5,617.5 794.5,619.0 794.8,620.5 795.2,622.0 820.7,622.0 820.3,620.5 820.0,619.0 820.0,617.5 820.2,616.0 820.5,614.5 821.1,613.0 821.9,611.5 822.8,610.0 823.8,608.5 825.0,607.0 826.3,605.5 827.6,604.0 829.0,602.5 830.5,601.0 831.9,599.5 833.3,598.0 834.6,596.5 835.8,595.0 836.9,593.5 837.9,592.0 838.7,590.5 839.3,589.0 839.7,587.5 840.0,586.0 840.0,584.5 839.8,583.0 839.5,581.5 838.9,580.0 838.1,578.5 837.2,577.0 836.2,575.5 835.0,574.0 833.7,572.5 832.4,571.0 831.0,569.5 829.5,568.0 828.1,566.5 826.7,565.0 825.4,563.5 824.2,562.0 823.1,560.5 822.1,559.0 821.3,557.5 820.7,556.0 820.3,554.5 820.0,553.0 820.0,551.5 820.2,550.0 820.5,548.5 821.1,547.0 821.9,545.5 822.8,544.0 823.8,542.5 825.0,541.0 826.3,539.5 827.6,538.0 829.0,536.5 830.5,535.0 831.9,533.5 833.3,532.0 834.6,530.5 835.8,529.0 836.9,527.5 837.9,526.0 838.7,524.5 839.3,523.0 839.7,521.5 840.0,520.0 840.0,518.5 839.8,517.0 839.5,515.5 838.9,514.0 838.1,512.5 837.2,511.0 836.2,509.5 835.0,508.0 833.7,506.5 832.4,505.0 831.0,503.5 829.5,502.0 828.1,500.5 826.7,499.0 825.4,497.5 824.2,496.0 823.1,494.5 822.1,493.0 821.3,491.5 820.7,490.0 820.3,488.5 820.0,487.0 820.0,485.5 820.2,484.0 820.5,482.5 821.1,481.0 821.9,479.5 822.8,478.0 823.8,476.5 825.0,475.0 826.3,473.5 827.6,472.0 829.0,470.5 830.5,469.0 831.9,467.5 833.3,466.0 834.6,464.5 835.8,463.0 836.9,461.5 837.9,460.0 838.7,458.5 839.3,457.0 839.7,455.5 840.0,454.0 840.0,452.5 839.8,451.0" fill="#fff"/><polyline points="814.3,451.0 814.5,452.5 814.5,454.0 814.2,455.5 813.8,457.0 813.2,458.5 812.4,460.0 811.4,461.5 810.3,463.0 809.1,464.5 807.8,466.0 806.4,467.5 805.0,469.0 803.5,470.5 802.1,472.0 800.8,473.5 799.5,475.0 798.3,476.5 797.3,478.0 796.4,479.5 795.6,481.0 795.0,482.5 794.7,484.0 794.5,485.5 794.5,487.0 794.8,488.5 795.2,490.0 795.8,491.5 796.6,493.0 797.6,494.5 798.7,496.0 799.9,497.5 801.2,499.0 802.6,500.5 804.0,502.0 805.5,503.5 806.9,505.0 808.2,506.5 809.5,508.0 810.7,509.5 811.7,511.0 812.6,512.5 813.4,514.0 814.0,515.5 814.3,517.0 814.5,518.5 814.5,520.0 814.2,521.5 813.8,523.0 813.2,524.5 812.4,526.0 811.4,527.5 810.3,529.0 809.1,530.5 807.8,532.0 806.4,533.5 805.0,535.0 803.5,536.5 802.1,538.0 800.8,539.5 799.5,541.0 798.3,542.5 797.3,544.0 796.4,545.5 795.6,547.0 795.0,548.5 794.7,550.0 794.5,551.5 794.5,553.0 794.8,554.5 795.2,556.0 795.8,557.5 796.6,559.0 797.6,560.5 798.7,562.0 799.9,563.5 801.2,565.0 802.6,566.5 804.0,568.0 805.5,569.5 806.9,571.0 808.2,572.5 809.5,574.0 810.7,575.5 811.7,577.0 812.6,578.5 813.4,580.0 814.0,581.5 814.3,583.0 814.5,584.5 814.5,586.0 814.2,587.5 813.8,589.0 813.2,590.5 812.4,592.0 811.4,593.5 810.3,595.0 809.1,596.5 807.8,598.0 806.4,599.5 805.0,601.0 803.5,602.5 802.1,604.0 800.8,605.5 799.5,607.0 798.3,608.5 797.3,610.0 796.4,611.5 795.6,613.0 795.0,614.5 794.7,616.0 794.5,617.5 794.5,619.0 794.8,620.5 795.2,622.0" fill="none" stroke="#151515" stroke-width="1.4"/><polyline points="839.8,451.0 840.0,452.5 840.0,454.0 839.7,455.5 839.3,457.0 838.7,458.5 837.9,460.0 836.9,461.5 835.8,463.0 834.6,464.5 833.3,466.0 831.9,467.5 830.5,469.0 829.0,470.5 827.6,472.0 826.3,473.5 825.0,475.0 823.8,476.5 822.8,478.0 821.9,479.5 821.1,481.0 820.5,482.5 820.2,484.0 820.0,485.5 820.0,487.0 820.3,488.5 820.7,490.0 821.3,491.5 822.1,493.0 823.1,494.5 824.2,496.0 825.4,497.5 826.7,499.0 828.1,500.5 829.5,502.0 831.0,503.5 832.4,505.0 833.7,506.5 835.0,508.0 836.2,509.5 837.2,511.0 838.1,512.5 838.9,514.0 839.5,515.5 839.8,517.0 840.0,518.5 840.0,520.0 839.7,521.5 839.3,523.0 838.7,524.5 837.9,526.0 836.9,527.5 835.8,529.0 834.6,530.5 833.3,532.0 831.9,533.5 830.5,535.0 829.0,536.5 827.6,538.0 826.3,539.5 825.0,541.0 823.8,542.5 822.8,544.0 821.9,545.5 821.1,547.0 820.5,548.5 820.2,550.0 820.0,551.5 820.0,553.0 820.3,554.5 820.7,556.0 821.3,557.5 822.1,559.0 823.1,560.5 824.2,562.0 825.4,563.5 826.7,565.0 828.1,566.5 829.5,568.0 831.0,569.5 832.4,571.0 833.7,572.5 835.0,574.0 836.2,575.5 837.2,577.0 838.1,578.5 838.9,580.0 839.5,581.5 839.8,583.0 840.0,584.5 840.0,586.0 839.7,587.5 839.3,589.0 838.7,590.5 837.9,592.0 836.9,593.5 835.8,595.0 834.6,596.5 833.3,598.0 831.9,599.5 830.5,601.0 829.0,602.5 827.6,604.0 826.3,605.5 825.0,607.0 823.8,608.5 822.8,610.0 821.9,611.5 821.1,613.0 820.5,614.5 820.2,616.0 820.0,617.5 820.0,619.0 820.3,620.5 820.7,622.0" fill="none" stroke="#151515" stroke-width="1.4"/><g transform="translate(868.3,507.5) rotate(90)"><text x="0" y="0" font-size="16" textLength="110.5" lengthAdjust="spacingAndGlyphs" fill="#111" stroke="#111" stroke-width="0.4" style="font-family:'Liberation Sans',sans-serif;font-weight:bold">Phase retardation</text></g></svg></body></html>
